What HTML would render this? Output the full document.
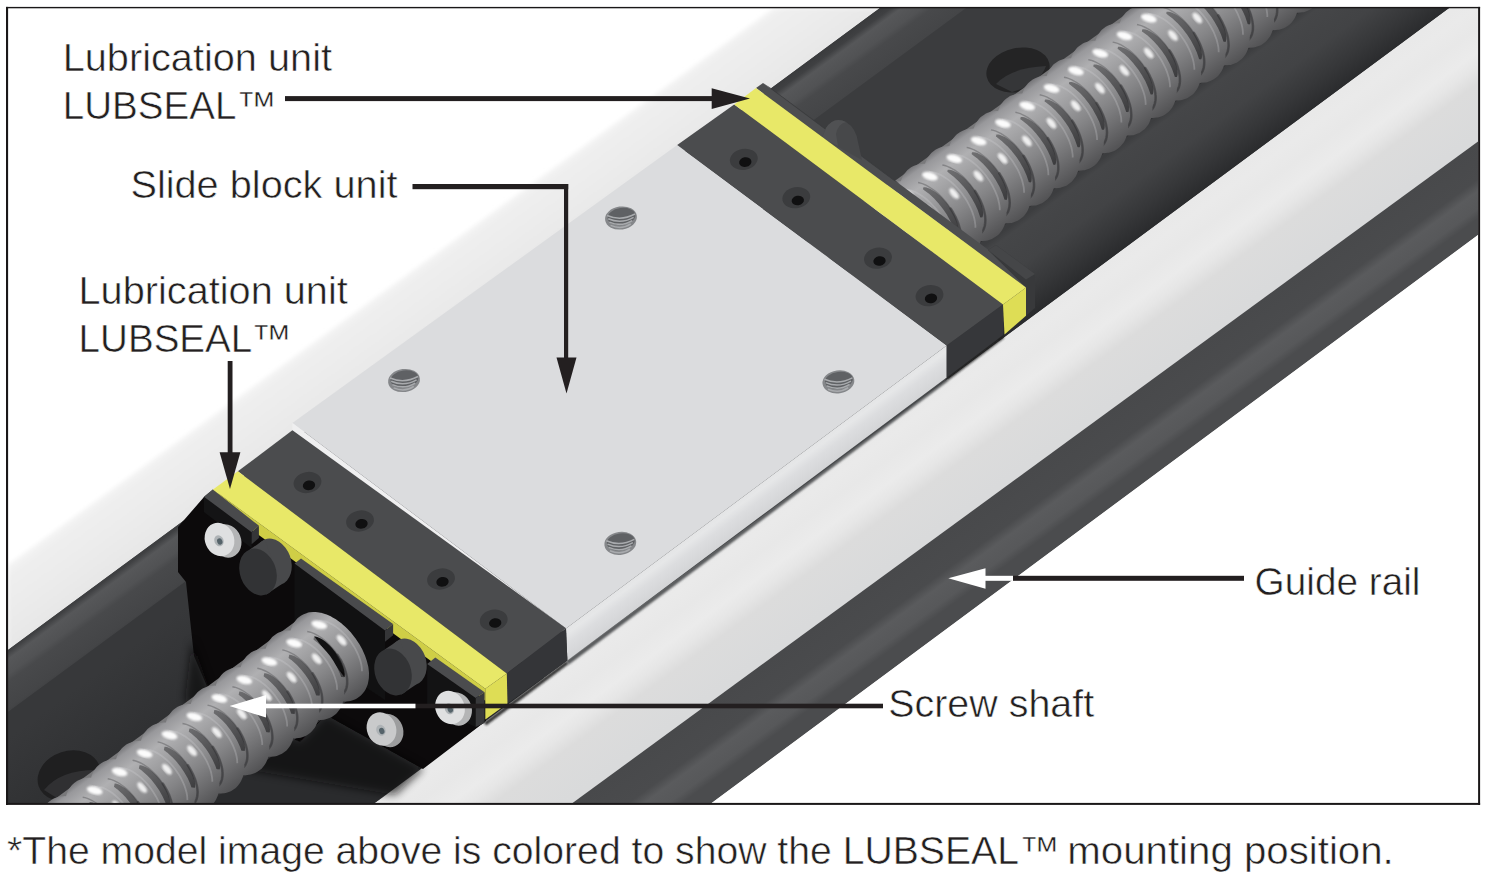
<!DOCTYPE html>
<html><head><meta charset="utf-8"><title>LUBSEAL mounting position</title>
<style>
html,body{margin:0;padding:0;background:#fff;}
body{width:1486px;height:874px;overflow:hidden;position:relative;font-family:"Liberation Sans",sans-serif;}
svg{position:absolute;left:0;top:0;display:block;}
text{font-family:"Liberation Sans",sans-serif;fill:#231f20;stroke:#fff;stroke-width:0.55px;}
</style></head><body>
<svg width="1486" height="874" viewBox="0 0 1486 874">
<defs>
<clipPath id="frame"><rect x="8" y="8" width="1470" height="795.5"/></clipPath>
<filter id="b2" x="-5%" y="-5%" width="110%" height="110%"><feGaussianBlur stdDeviation="2"/></filter>
<filter id="b1" x="-5%" y="-5%" width="110%" height="110%"><feGaussianBlur stdDeviation="1"/></filter>
<filter id="b4" x="-10%" y="-10%" width="120%" height="120%"><feGaussianBlur stdDeviation="4"/></filter>
</defs>
<g clip-path="url(#frame)">
<defs><linearGradient id="gLW" gradientUnits="userSpaceOnUse" x1="300.0" y1="352.0" x2="346.0" y2="415.0"><stop offset="0" stop-color="#f4f4f4"/><stop offset="0.15" stop-color="#eeeeee"/><stop offset="0.4" stop-color="#ececec"/><stop offset="0.7" stop-color="#e9e9e9"/><stop offset="1" stop-color="#e5e5e5"/></linearGradient></defs>
<polygon points="8.0,565.0 774.0,8.0 900.0,8.0 900.0,0.0 1478.0,0.0 1478.0,803.0 8.0,803.0" fill="url(#gLW)" filter="url(#b2)"/>
<polygon points="8.0,650.0 880.0,8.0 1449.4,8.0 375.0,803.0 8.0,803.0" fill="#3b3c3e" />
<defs><linearGradient id="gIW" gradientUnits="userSpaceOnUse" x1="500.0" y1="285.6" x2="536.0" y2="335.0"><stop offset="0" stop-color="#3a3b3d"/><stop offset="0.1" stop-color="#3f4042"/><stop offset="0.2" stop-color="#565759"/><stop offset="0.4" stop-color="#515254"/><stop offset="0.5" stop-color="#48494b"/><stop offset="0.85" stop-color="#444547"/><stop offset="1" stop-color="#3b3c3e"/></linearGradient></defs>
<polygon points="8.0,650.0 880.0,8.0 966.0,8.0 8.0,712.0" fill="url(#gIW)" />
<defs><linearGradient id="gFL" gradientUnits="userSpaceOnUse" x1="1100.0" y1="160.0" x2="1150.7" y2="229.0"><stop offset="0" stop-color="#3c3d3f"/><stop offset="0.08" stop-color="#454648"/><stop offset="0.45" stop-color="#424345"/><stop offset="0.75" stop-color="#363739"/><stop offset="1" stop-color="#2a2b2d"/></linearGradient></defs>
<polygon points="900.0,300.1 1300.0,-8.7 1449.4,8.0 1000.0,340.5" fill="url(#gFL)" />
<ellipse cx="1018.0" cy="70.0" rx="32.0" ry="22.0" fill="#242425" transform="rotate(-12.0 1018.0 70.0)" />
<path d="M996 84 Q1010 68 1046 66 Q1040 84 1012 92 Z" fill="#3a3b3d" opacity="0.8"/>
<defs><linearGradient id="gF2" gradientUnits="userSpaceOnUse" x1="60.0" y1="700.0" x2="160.0" y2="835.0"><stop offset="0" stop-color="#37383a"/><stop offset="0.5" stop-color="#2f3032"/><stop offset="1" stop-color="#2a2b2d"/></linearGradient></defs>
<polygon points="8.0,712.0 300.0,497.4 560.0,690.0 375.0,803.0 8.0,803.0" fill="url(#gF2)" />
<ellipse cx="69.0" cy="776.0" rx="32.0" ry="25.0" fill="#1f1f20" transform="rotate(-18.0 69.0 776.0)" />
<path d="M44 790 Q60 770 96 770 Q84 790 60 800 Z" fill="#343537" opacity="0.8"/>
<defs><linearGradient id="gRW" gradientUnits="userSpaceOnUse" x1="900.0" y1="414.6" x2="968.0" y2="507.6"><stop offset="0" stop-color="#e9e9e9"/><stop offset="0.1" stop-color="#eaeaea"/><stop offset="0.25" stop-color="#e8e8e8"/><stop offset="0.42" stop-color="#ebebeb"/><stop offset="0.52" stop-color="#e6e6e6"/><stop offset="0.64" stop-color="#dcdcdc"/><stop offset="1" stop-color="#d9dadb"/></linearGradient></defs>
<polygon points="375.0,803.0 1449.4,8.0 1478.0,8.0 1478.0,141.5 572.5,803.0" fill="url(#gRW)" />
<defs><linearGradient id="gOD" gradientUnits="userSpaceOnUse" x1="1000.0" y1="490.7" x2="1047.0" y2="554.7"><stop offset="0" stop-color="#48494b"/><stop offset="0.4" stop-color="#4a4b4d"/><stop offset="0.52" stop-color="#5a5b5d"/><stop offset="0.7" stop-color="#57585a"/><stop offset="0.8" stop-color="#4b4c4e"/><stop offset="1" stop-color="#4b4c4e"/></linearGradient></defs>
<polygon points="572.5,803.0 1478.0,141.5 1478.0,235.0 711.7,803.0" fill="url(#gOD)" />
<polygon points="711.7,803.0 1478.0,235.0 1478.0,803.0" fill="#ffffff" />
<g>
<defs><linearGradient id="sAg" gradientUnits="userSpaceOnUse" x1="819.0" y1="233.7" x2="881.0" y2="319.7"><stop offset="0" stop-color="#77777a"/><stop offset="0.06" stop-color="#98989b"/><stop offset="0.2" stop-color="#b0b0b2"/><stop offset="0.4" stop-color="#9b9b9d"/><stop offset="0.6" stop-color="#858587"/><stop offset="0.8" stop-color="#6c6c6e"/><stop offset="1" stop-color="#525254"/></linearGradient><linearGradient id="sAd" gradientUnits="userSpaceOnUse" x1="819.0" y1="233.7" x2="881.0" y2="319.7"><stop offset="0" stop-color="#7a7a7c"/><stop offset="0.2" stop-color="#727274"/><stop offset="0.45" stop-color="#5a5a5c"/><stop offset="0.75" stop-color="#3e3e40"/><stop offset="1" stop-color="#2e2e30"/></linearGradient></defs>
<polygon points="819.9,235.0 1299.9,-111.5 1358.5,-30.3 878.5,316.2" fill="url(#sAd)"/>
<path d="M1300.4 -92.6 L1301.2 -96.5 L1302.6 -99.7 L1304.6 -102.3 L1307.2 -104.2 L1310.2 -105.3 L1313.8 -105.6 L1317.7 -105.1 L1321.8 -103.8 L1326.2 -101.8 L1330.6 -99.0 L1335.0 -95.6 L1339.3 -91.6 L1343.4 -87.2 L1347.2 -82.3 L1350.7 -77.2 L1353.6 -71.9 L1356.0 -66.6 L1357.9 -61.3 L1359.1 -56.2 L1359.6 -51.5 L1359.5 -47.1 L1358.8 -43.2 L1357.4 -40.0 L1355.4 -37.4 L1352.8 -35.5 L1349.7 -34.4 L1346.2 -34.1 L1342.3 -34.6" fill="none" stroke="url(#sAg)" stroke-width="23.4" stroke-linejoin="round" stroke-linecap="round"/>
<path d="M1307.2 -98.4 L1309.7 -97.9 L1312.1 -97.0 L1314.7 -96.0 L1317.3 -94.6 L1319.9 -93.0 L1322.5 -91.2 L1325.2 -89.1 L1327.7 -86.9 L1330.2 -84.4 L1332.7 -81.8 L1335.0 -79.0 L1337.3 -76.1 L1339.4 -73.2 L1341.3 -70.1 L1343.1 -67.0 L1344.7 -63.8 L1346.2 -60.6 L1347.4 -57.5 L1348.4 -54.4 L1349.2 -51.4 L1349.7 -48.4 L1350.1 -45.6 L1350.2 -42.9 L1350.1 -40.4 L1349.7 -38.0 L1349.1 -35.9 L1348.3 -33.9 L1347.3 -32.2" fill="none" stroke="#3c3c3e" stroke-width="1.4" opacity="0.35"/>
<path d="M1339.8 -72.5 L1340.9 -70.8 L1342.0 -69.0 L1343.0 -67.2 L1343.9 -65.4 L1344.8 -63.6 L1345.7 -61.8 L1346.4 -60.0 L1347.1 -58.2 L1347.7 -56.4 L1348.3 -54.7 L1348.8 -52.9 L1349.2 -51.2 L1349.6 -49.5 L1349.8 -47.9 L1350.0 -46.3 L1350.2 -44.7 L1350.2 -43.2 L1350.2 -41.7 L1350.1 -40.3 L1349.9 -38.9 L1349.6 -37.6 L1349.3 -36.4 L1348.9 -35.2 L1348.4 -34.1 L1347.9 -33.1 L1347.2 -32.1 L1346.6 -31.3 L1345.8 -30.5" fill="none" stroke="#2c2c2e" stroke-width="2.6" opacity="0.45" stroke-linecap="round"/>
<path d="M1318.1 -109.2 L1320.1 -109.1 L1322.1 -108.8 L1324.2 -108.2 L1326.4 -107.5 L1328.7 -106.6 L1330.9 -105.4 L1333.2 -104.1 L1335.6 -102.6 L1337.9 -100.9 L1340.2 -99.0 L1342.4 -97.0 L1344.6 -94.9 L1346.8 -92.6 L1348.9 -90.2 L1350.9 -87.6 L1352.8 -85.1 L1354.6 -82.4 L1356.2 -79.7 L1357.8 -76.9 L1359.2 -74.1 L1360.4 -71.3 L1361.6 -68.6 L1362.5 -65.8 L1363.3 -63.1 L1363.9 -60.5 L1364.3 -58.0 L1364.5 -55.5 L1364.6 -53.1" fill="none" stroke="#d2d2d3" stroke-width="1.8" opacity="0.28"/>
<ellipse cx="1319.1" cy="-104.7" rx="8.0" ry="3.9" fill="#fff" opacity="0.97" transform="rotate(16.3 1319.1 -104.7)" filter="url(#b1)"/>
<ellipse cx="1343.2" cy="-87.4" rx="6.5" ry="3.2" fill="#fff" opacity="0.85" transform="rotate(49.8 1343.2 -87.4)" filter="url(#b1)"/>
<path d="M1276.1 -75.1 L1276.8 -78.9 L1278.2 -82.2 L1280.3 -84.8 L1282.8 -86.6 L1285.9 -87.7 L1289.5 -88.0 L1293.3 -87.5 L1297.5 -86.3 L1301.9 -84.2 L1306.3 -81.5 L1310.7 -78.1 L1315.0 -74.1 L1319.1 -69.6 L1322.9 -64.8 L1326.3 -59.6 L1329.3 -54.3 L1331.7 -49.0 L1333.5 -43.7 L1334.8 -38.7 L1335.3 -33.9 L1335.2 -29.5 L1334.5 -25.7 L1333.1 -22.4 L1331.0 -19.8 L1328.5 -18.0 L1325.4 -16.9 L1321.8 -16.6 L1318.0 -17.1" fill="none" stroke="url(#sAg)" stroke-width="23.4" stroke-linejoin="round" stroke-linecap="round"/>
<path d="M1282.9 -80.9 L1285.3 -80.3 L1287.8 -79.5 L1290.4 -78.4 L1293.0 -77.0 L1295.6 -75.4 L1298.2 -73.6 L1300.8 -71.5 L1303.4 -69.3 L1305.9 -66.8 L1308.4 -64.2 L1310.7 -61.5 L1312.9 -58.6 L1315.0 -55.6 L1317.0 -52.5 L1318.8 -49.4 L1320.4 -46.2 L1321.8 -43.1 L1323.1 -39.9 L1324.1 -36.8 L1324.9 -33.8 L1325.4 -30.9 L1325.8 -28.0 L1325.9 -25.4 L1325.7 -22.8 L1325.4 -20.5 L1324.8 -18.3 L1324.0 -16.4 L1323.0 -14.6" fill="none" stroke="#3c3c3e" stroke-width="1.4" opacity="0.35"/>
<path d="M1315.5 -55.0 L1316.6 -53.2 L1317.7 -51.4 L1318.7 -49.6 L1319.6 -47.9 L1320.5 -46.0 L1321.3 -44.2 L1322.1 -42.4 L1322.8 -40.7 L1323.4 -38.9 L1324.0 -37.1 L1324.5 -35.4 L1324.9 -33.6 L1325.2 -32.0 L1325.5 -30.3 L1325.7 -28.7 L1325.8 -27.1 L1325.9 -25.6 L1325.8 -24.1 L1325.7 -22.7 L1325.6 -21.3 L1325.3 -20.0 L1325.0 -18.8 L1324.6 -17.6 L1324.1 -16.5 L1323.5 -15.5 L1322.9 -14.6 L1322.2 -13.7 L1321.5 -12.9" fill="none" stroke="#2c2c2e" stroke-width="2.6" opacity="0.45" stroke-linecap="round"/>
<path d="M1293.8 -91.6 L1295.7 -91.5 L1297.8 -91.2 L1299.9 -90.7 L1302.1 -89.9 L1304.3 -89.0 L1306.6 -87.9 L1308.9 -86.5 L1311.2 -85.0 L1313.5 -83.3 L1315.8 -81.5 L1318.1 -79.5 L1320.3 -77.3 L1322.5 -75.0 L1324.5 -72.6 L1326.5 -70.1 L1328.4 -67.5 L1330.2 -64.8 L1331.9 -62.1 L1333.5 -59.3 L1334.9 -56.6 L1336.1 -53.8 L1337.2 -51.0 L1338.2 -48.3 L1338.9 -45.6 L1339.5 -42.9 L1340.0 -40.4 L1340.2 -37.9 L1340.3 -35.6" fill="none" stroke="#d2d2d3" stroke-width="1.8" opacity="0.28"/>
<ellipse cx="1294.8" cy="-87.2" rx="8.0" ry="3.9" fill="#fff" opacity="0.97" transform="rotate(16.3 1294.8 -87.2)" filter="url(#b1)"/>
<ellipse cx="1318.9" cy="-69.9" rx="6.5" ry="3.2" fill="#fff" opacity="0.85" transform="rotate(49.8 1318.9 -69.9)" filter="url(#b1)"/>
<path d="M1251.8 -57.5 L1252.5 -61.4 L1253.9 -64.6 L1255.9 -67.2 L1258.5 -69.1 L1261.6 -70.2 L1265.1 -70.5 L1269.0 -70.0 L1273.2 -68.7 L1277.5 -66.7 L1282.0 -63.9 L1286.4 -60.5 L1290.7 -56.5 L1294.8 -52.1 L1298.6 -47.2 L1302.0 -42.1 L1305.0 -36.8 L1307.4 -31.4 L1309.2 -26.2 L1310.4 -21.1 L1311.0 -16.3 L1310.9 -12.0 L1310.1 -8.1 L1308.7 -4.9 L1306.7 -2.3 L1304.1 -0.4 L1301.1 0.7 L1297.5 1.0 L1293.6 0.5" fill="none" stroke="url(#sAg)" stroke-width="23.4" stroke-linejoin="round" stroke-linecap="round"/>
<path d="M1258.6 -63.3 L1261.0 -62.8 L1263.5 -61.9 L1266.0 -60.8 L1268.6 -59.5 L1271.3 -57.9 L1273.9 -56.0 L1276.5 -54.0 L1279.1 -51.7 L1281.6 -49.3 L1284.0 -46.7 L1286.4 -43.9 L1288.6 -41.0 L1290.7 -38.0 L1292.7 -35.0 L1294.5 -31.8 L1296.1 -28.7 L1297.5 -25.5 L1298.7 -22.4 L1299.7 -19.3 L1300.5 -16.3 L1301.1 -13.3 L1301.4 -10.5 L1301.6 -7.8 L1301.4 -5.3 L1301.1 -2.9 L1300.5 -0.7 L1299.7 1.2 L1298.6 2.9" fill="none" stroke="#3c3c3e" stroke-width="1.4" opacity="0.35"/>
<path d="M1291.2 -37.4 L1292.3 -35.6 L1293.3 -33.9 L1294.3 -32.1 L1295.3 -30.3 L1296.2 -28.5 L1297.0 -26.7 L1297.8 -24.9 L1298.5 -23.1 L1299.1 -21.3 L1299.7 -19.5 L1300.2 -17.8 L1300.6 -16.1 L1300.9 -14.4 L1301.2 -12.7 L1301.4 -11.1 L1301.5 -9.6 L1301.6 -8.0 L1301.5 -6.6 L1301.4 -5.1 L1301.2 -3.8 L1301.0 -2.5 L1300.6 -1.2 L1300.2 -0.1 L1299.8 1.0 L1299.2 2.0 L1298.6 3.0 L1297.9 3.9 L1297.2 4.6" fill="none" stroke="#2c2c2e" stroke-width="2.6" opacity="0.45" stroke-linecap="round"/>
<path d="M1269.4 -74.0 L1271.4 -73.9 L1273.5 -73.6 L1275.6 -73.1 L1277.8 -72.4 L1280.0 -71.5 L1282.3 -70.3 L1284.6 -69.0 L1286.9 -67.5 L1289.2 -65.8 L1291.5 -63.9 L1293.8 -61.9 L1296.0 -59.7 L1298.1 -57.4 L1300.2 -55.0 L1302.2 -52.5 L1304.1 -49.9 L1305.9 -47.3 L1307.6 -44.5 L1309.1 -41.8 L1310.5 -39.0 L1311.8 -36.2 L1312.9 -33.5 L1313.8 -30.7 L1314.6 -28.0 L1315.2 -25.4 L1315.7 -22.8 L1315.9 -20.4 L1316.0 -18.0" fill="none" stroke="#d2d2d3" stroke-width="1.8" opacity="0.28"/>
<ellipse cx="1270.5" cy="-69.6" rx="8.0" ry="3.9" fill="#fff" opacity="0.97" transform="rotate(16.3 1270.5 -69.6)" filter="url(#b1)"/>
<ellipse cx="1294.6" cy="-52.3" rx="6.5" ry="3.2" fill="#fff" opacity="0.85" transform="rotate(49.8 1294.6 -52.3)" filter="url(#b1)"/>
<path d="M1227.4 -39.9 L1228.2 -43.8 L1229.6 -47.0 L1231.6 -49.6 L1234.2 -51.5 L1237.3 -52.6 L1240.8 -52.9 L1244.7 -52.4 L1248.9 -51.1 L1253.2 -49.1 L1257.7 -46.3 L1262.1 -42.9 L1266.4 -39.0 L1270.5 -34.5 L1274.3 -29.6 L1277.7 -24.5 L1280.6 -19.2 L1283.1 -13.9 L1284.9 -8.6 L1286.1 -3.5 L1286.7 1.2 L1286.6 5.6 L1285.8 9.4 L1284.4 12.7 L1282.4 15.3 L1279.8 17.1 L1276.7 18.2 L1273.2 18.5 L1269.3 18.1" fill="none" stroke="url(#sAg)" stroke-width="23.4" stroke-linejoin="round" stroke-linecap="round"/>
<path d="M1234.3 -45.7 L1236.7 -45.2 L1239.2 -44.4 L1241.7 -43.3 L1244.3 -41.9 L1246.9 -40.3 L1249.6 -38.5 L1252.2 -36.4 L1254.8 -34.2 L1257.3 -31.7 L1259.7 -29.1 L1262.1 -26.3 L1264.3 -23.5 L1266.4 -20.5 L1268.4 -17.4 L1270.1 -14.3 L1271.8 -11.1 L1273.2 -8.0 L1274.4 -4.8 L1275.4 -1.7 L1276.2 1.3 L1276.8 4.2 L1277.1 7.1 L1277.2 9.8 L1277.1 12.3 L1276.7 14.7 L1276.2 16.8 L1275.4 18.8 L1274.3 20.5" fill="none" stroke="#3c3c3e" stroke-width="1.4" opacity="0.35"/>
<path d="M1266.8 -19.8 L1267.9 -18.1 L1269.0 -16.3 L1270.0 -14.5 L1271.0 -12.7 L1271.9 -10.9 L1272.7 -9.1 L1273.4 -7.3 L1274.1 -5.5 L1274.8 -3.7 L1275.3 -2.0 L1275.8 -0.2 L1276.2 1.5 L1276.6 3.2 L1276.9 4.8 L1277.1 6.4 L1277.2 8.0 L1277.2 9.5 L1277.2 11.0 L1277.1 12.4 L1276.9 13.8 L1276.7 15.1 L1276.3 16.3 L1275.9 17.5 L1275.4 18.6 L1274.9 19.6 L1274.3 20.6 L1273.6 21.4 L1272.8 22.2" fill="none" stroke="#2c2c2e" stroke-width="2.6" opacity="0.45" stroke-linecap="round"/>
<path d="M1245.1 -56.5 L1247.1 -56.4 L1249.1 -56.1 L1251.3 -55.6 L1253.4 -54.8 L1255.7 -53.9 L1258.0 -52.8 L1260.3 -51.4 L1262.6 -49.9 L1264.9 -48.2 L1267.2 -46.3 L1269.4 -44.3 L1271.7 -42.2 L1273.8 -39.9 L1275.9 -37.5 L1277.9 -35.0 L1279.8 -32.4 L1281.6 -29.7 L1283.3 -27.0 L1284.8 -24.2 L1286.2 -21.4 L1287.5 -18.7 L1288.6 -15.9 L1289.5 -13.2 L1290.3 -10.5 L1290.9 -7.8 L1291.3 -5.3 L1291.6 -2.8 L1291.6 -0.5" fill="none" stroke="#d2d2d3" stroke-width="1.8" opacity="0.28"/>
<ellipse cx="1246.1" cy="-52.1" rx="8.0" ry="3.9" fill="#fff" opacity="0.97" transform="rotate(16.3 1246.1 -52.1)" filter="url(#b1)"/>
<ellipse cx="1270.3" cy="-34.7" rx="6.5" ry="3.2" fill="#fff" opacity="0.85" transform="rotate(49.8 1270.3 -34.7)" filter="url(#b1)"/>
<path d="M1203.1 -22.4 L1203.9 -26.2 L1205.3 -29.5 L1207.3 -32.1 L1209.9 -33.9 L1213.0 -35.0 L1216.5 -35.3 L1220.4 -34.8 L1224.5 -33.6 L1228.9 -31.5 L1233.3 -28.8 L1237.8 -25.4 L1242.1 -21.4 L1246.2 -16.9 L1250.0 -12.1 L1253.4 -7.0 L1256.3 -1.7 L1258.7 3.7 L1260.6 8.9 L1261.8 14.0 L1262.3 18.8 L1262.3 23.1 L1261.5 27.0 L1260.1 30.3 L1258.1 32.8 L1255.5 34.7 L1252.4 35.8 L1248.9 36.1 L1245.0 35.6" fill="none" stroke="url(#sAg)" stroke-width="23.4" stroke-linejoin="round" stroke-linecap="round"/>
<path d="M1210.0 -28.2 L1212.4 -27.6 L1214.8 -26.8 L1217.4 -25.7 L1220.0 -24.4 L1222.6 -22.8 L1225.3 -20.9 L1227.9 -18.9 L1230.4 -16.6 L1233.0 -14.2 L1235.4 -11.5 L1237.7 -8.8 L1240.0 -5.9 L1242.1 -2.9 L1244.0 0.2 L1245.8 3.3 L1247.4 6.4 L1248.9 9.6 L1250.1 12.7 L1251.1 15.8 L1251.9 18.9 L1252.5 21.8 L1252.8 24.6 L1252.9 27.3 L1252.8 29.9 L1252.4 32.2 L1251.8 34.4 L1251.0 36.3 L1250.0 38.0" fill="none" stroke="#3c3c3e" stroke-width="1.4" opacity="0.35"/>
<path d="M1242.5 -2.3 L1243.6 -0.5 L1244.7 1.3 L1245.7 3.0 L1246.6 4.8 L1247.5 6.6 L1248.4 8.4 L1249.1 10.2 L1249.8 12.0 L1250.5 13.8 L1251.0 15.6 L1251.5 17.3 L1251.9 19.0 L1252.3 20.7 L1252.5 22.4 L1252.7 24.0 L1252.9 25.6 L1252.9 27.1 L1252.9 28.6 L1252.8 30.0 L1252.6 31.3 L1252.3 32.6 L1252.0 33.9 L1251.6 35.0 L1251.1 36.1 L1250.6 37.2 L1250.0 38.1 L1249.3 39.0 L1248.5 39.8" fill="none" stroke="#2c2c2e" stroke-width="2.6" opacity="0.45" stroke-linecap="round"/>
<path d="M1220.8 -38.9 L1222.8 -38.8 L1224.8 -38.5 L1226.9 -38.0 L1229.1 -37.3 L1231.4 -36.3 L1233.6 -35.2 L1235.9 -33.9 L1238.3 -32.3 L1240.6 -30.6 L1242.9 -28.8 L1245.1 -26.8 L1247.3 -24.6 L1249.5 -22.3 L1251.6 -19.9 L1253.6 -17.4 L1255.5 -14.8 L1257.3 -12.1 L1258.9 -9.4 L1260.5 -6.7 L1261.9 -3.9 L1263.2 -1.1 L1264.3 1.7 L1265.2 4.4 L1266.0 7.1 L1266.6 9.7 L1267.0 12.3 L1267.3 14.7 L1267.3 17.1" fill="none" stroke="#d2d2d3" stroke-width="1.8" opacity="0.28"/>
<ellipse cx="1221.8" cy="-34.5" rx="8.0" ry="3.9" fill="#fff" opacity="0.97" transform="rotate(16.3 1221.8 -34.5)" filter="url(#b1)"/>
<ellipse cx="1246.0" cy="-17.2" rx="6.5" ry="3.2" fill="#fff" opacity="0.85" transform="rotate(49.8 1246.0 -17.2)" filter="url(#b1)"/>
<path d="M1178.8 -4.8 L1179.5 -8.7 L1180.9 -11.9 L1183.0 -14.5 L1185.5 -16.4 L1188.6 -17.5 L1192.2 -17.8 L1196.1 -17.3 L1200.2 -16.0 L1204.6 -14.0 L1209.0 -11.2 L1213.4 -7.8 L1217.7 -3.8 L1221.8 0.6 L1225.6 5.5 L1229.0 10.6 L1232.0 15.9 L1234.4 21.2 L1236.2 26.5 L1237.5 31.6 L1238.0 36.4 L1237.9 40.7 L1237.2 44.6 L1235.8 47.8 L1233.8 50.4 L1231.2 52.3 L1228.1 53.4 L1224.6 53.7 L1220.7 53.2" fill="none" stroke="url(#sAg)" stroke-width="23.4" stroke-linejoin="round" stroke-linecap="round"/>
<path d="M1185.6 -10.6 L1188.0 -10.1 L1190.5 -9.2 L1193.1 -8.1 L1195.7 -6.8 L1198.3 -5.2 L1200.9 -3.4 L1203.5 -1.3 L1206.1 1.0 L1208.6 3.4 L1211.1 6.0 L1213.4 8.8 L1215.7 11.7 L1217.8 14.6 L1219.7 17.7 L1221.5 20.8 L1223.1 24.0 L1224.5 27.2 L1225.8 30.3 L1226.8 33.4 L1227.6 36.4 L1228.1 39.4 L1228.5 42.2 L1228.6 44.9 L1228.5 47.4 L1228.1 49.8 L1227.5 51.9 L1226.7 53.9 L1225.7 55.6" fill="none" stroke="#3c3c3e" stroke-width="1.4" opacity="0.35"/>
<path d="M1218.2 15.3 L1219.3 17.0 L1220.4 18.8 L1221.4 20.6 L1222.3 22.4 L1223.2 24.2 L1224.0 26.0 L1224.8 27.8 L1225.5 29.6 L1226.1 31.4 L1226.7 33.1 L1227.2 34.9 L1227.6 36.6 L1227.9 38.3 L1228.2 39.9 L1228.4 41.6 L1228.5 43.1 L1228.6 44.6 L1228.6 46.1 L1228.4 47.5 L1228.3 48.9 L1228.0 50.2 L1227.7 51.4 L1227.3 52.6 L1226.8 53.7 L1226.2 54.7 L1225.6 55.7 L1224.9 56.5 L1224.2 57.3" fill="none" stroke="#2c2c2e" stroke-width="2.6" opacity="0.45" stroke-linecap="round"/>
<path d="M1196.5 -21.3 L1198.4 -21.3 L1200.5 -21.0 L1202.6 -20.4 L1204.8 -19.7 L1207.0 -18.8 L1209.3 -17.6 L1211.6 -16.3 L1213.9 -14.8 L1216.3 -13.1 L1218.5 -11.2 L1220.8 -9.2 L1223.0 -7.0 L1225.2 -4.8 L1227.3 -2.3 L1229.3 0.2 L1231.2 2.8 L1233.0 5.4 L1234.6 8.1 L1236.2 10.9 L1237.6 13.7 L1238.8 16.5 L1239.9 19.2 L1240.9 22.0 L1241.7 24.7 L1242.3 27.3 L1242.7 29.8 L1242.9 32.3 L1243.0 34.7" fill="none" stroke="#d2d2d3" stroke-width="1.8" opacity="0.28"/>
<ellipse cx="1197.5" cy="-16.9" rx="8.0" ry="3.9" fill="#fff" opacity="0.97" transform="rotate(16.3 1197.5 -16.9)" filter="url(#b1)"/>
<ellipse cx="1221.6" cy="0.4" rx="6.5" ry="3.2" fill="#fff" opacity="0.85" transform="rotate(49.8 1221.6 0.4)" filter="url(#b1)"/>
<path d="M1154.5 12.7 L1155.2 8.9 L1156.6 5.6 L1158.6 3.0 L1161.2 1.2 L1164.3 0.1 L1167.8 -0.2 L1171.7 0.3 L1175.9 1.6 L1180.3 3.6 L1184.7 6.3 L1189.1 9.7 L1193.4 13.7 L1197.5 18.2 L1201.3 23.0 L1204.7 28.2 L1207.7 33.5 L1210.1 38.8 L1211.9 44.1 L1213.1 49.1 L1213.7 53.9 L1213.6 58.3 L1212.8 62.1 L1211.4 65.4 L1209.4 68.0 L1206.9 69.8 L1203.8 70.9 L1200.2 71.2 L1196.3 70.7" fill="none" stroke="url(#sAg)" stroke-width="23.4" stroke-linejoin="round" stroke-linecap="round"/>
<path d="M1161.3 6.9 L1163.7 7.5 L1166.2 8.3 L1168.8 9.4 L1171.4 10.8 L1174.0 12.4 L1176.6 14.2 L1179.2 16.3 L1181.8 18.5 L1184.3 21.0 L1186.8 23.6 L1189.1 26.3 L1191.3 29.2 L1193.4 32.2 L1195.4 35.3 L1197.2 38.4 L1198.8 41.6 L1200.2 44.7 L1201.4 47.9 L1202.4 51.0 L1203.2 54.0 L1203.8 56.9 L1204.2 59.8 L1204.3 62.4 L1204.1 65.0 L1203.8 67.3 L1203.2 69.5 L1202.4 71.4 L1201.4 73.2" fill="none" stroke="#3c3c3e" stroke-width="1.4" opacity="0.35"/>
<path d="M1193.9 32.9 L1195.0 34.6 L1196.0 36.4 L1197.0 38.2 L1198.0 40.0 L1198.9 41.8 L1199.7 43.6 L1200.5 45.4 L1201.2 47.2 L1201.8 48.9 L1202.4 50.7 L1202.9 52.4 L1203.3 54.2 L1203.6 55.8 L1203.9 57.5 L1204.1 59.1 L1204.2 60.7 L1204.3 62.2 L1204.2 63.7 L1204.1 65.1 L1203.9 66.5 L1203.7 67.8 L1203.4 69.0 L1202.9 70.2 L1202.5 71.3 L1201.9 72.3 L1201.3 73.2 L1200.6 74.1 L1199.9 74.9" fill="none" stroke="#2c2c2e" stroke-width="2.6" opacity="0.45" stroke-linecap="round"/>
<path d="M1172.2 -3.8 L1174.1 -3.7 L1176.2 -3.4 L1178.3 -2.9 L1180.5 -2.1 L1182.7 -1.2 L1185.0 -0.1 L1187.3 1.3 L1189.6 2.8 L1191.9 4.5 L1194.2 6.3 L1196.5 8.4 L1198.7 10.5 L1200.9 12.8 L1202.9 15.2 L1204.9 17.7 L1206.8 20.3 L1208.6 23.0 L1210.3 25.7 L1211.8 28.5 L1213.3 31.2 L1214.5 34.0 L1215.6 36.8 L1216.6 39.5 L1217.3 42.2 L1217.9 44.9 L1218.4 47.4 L1218.6 49.9 L1218.7 52.2" fill="none" stroke="#d2d2d3" stroke-width="1.8" opacity="0.28"/>
<ellipse cx="1173.2" cy="0.6" rx="8.0" ry="3.9" fill="#fff" opacity="0.97" transform="rotate(16.3 1173.2 0.6)" filter="url(#b1)"/>
<ellipse cx="1197.3" cy="18.0" rx="6.5" ry="3.2" fill="#fff" opacity="0.85" transform="rotate(49.8 1197.3 18.0)" filter="url(#b1)"/>
<path d="M1130.1 30.3 L1130.9 26.5 L1132.3 23.2 L1134.3 20.6 L1136.9 18.7 L1140.0 17.6 L1143.5 17.3 L1147.4 17.8 L1151.6 19.1 L1155.9 21.2 L1160.4 23.9 L1164.8 27.3 L1169.1 31.3 L1173.2 35.7 L1177.0 40.6 L1180.4 45.7 L1183.3 51.0 L1185.8 56.4 L1187.6 61.6 L1188.8 66.7 L1189.4 71.5 L1189.3 75.8 L1188.5 79.7 L1187.1 82.9 L1185.1 85.5 L1182.5 87.4 L1179.4 88.5 L1175.9 88.8 L1172.0 88.3" fill="none" stroke="url(#sAg)" stroke-width="23.4" stroke-linejoin="round" stroke-linecap="round"/>
<path d="M1137.0 24.5 L1139.4 25.1 L1141.9 25.9 L1144.4 27.0 L1147.0 28.3 L1149.7 29.9 L1152.3 31.8 L1154.9 33.8 L1157.5 36.1 L1160.0 38.5 L1162.4 41.1 L1164.8 43.9 L1167.0 46.8 L1169.1 49.8 L1171.1 52.8 L1172.9 56.0 L1174.5 59.1 L1175.9 62.3 L1177.1 65.4 L1178.1 68.5 L1178.9 71.6 L1179.5 74.5 L1179.8 77.3 L1179.9 80.0 L1179.8 82.5 L1179.5 84.9 L1178.9 87.1 L1178.1 89.0 L1177.0 90.7" fill="none" stroke="#3c3c3e" stroke-width="1.4" opacity="0.35"/>
<path d="M1169.5 50.4 L1170.7 52.2 L1171.7 53.9 L1172.7 55.7 L1173.7 57.5 L1174.6 59.3 L1175.4 61.1 L1176.2 62.9 L1176.9 64.7 L1177.5 66.5 L1178.0 68.3 L1178.5 70.0 L1179.0 71.7 L1179.3 73.4 L1179.6 75.1 L1179.8 76.7 L1179.9 78.2 L1179.9 79.8 L1179.9 81.2 L1179.8 82.7 L1179.6 84.0 L1179.4 85.3 L1179.0 86.6 L1178.6 87.7 L1178.2 88.8 L1177.6 89.8 L1177.0 90.8 L1176.3 91.7 L1175.5 92.4" fill="none" stroke="#2c2c2e" stroke-width="2.6" opacity="0.45" stroke-linecap="round"/>
<path d="M1147.8 13.8 L1149.8 13.9 L1151.8 14.2 L1154.0 14.7 L1156.2 15.4 L1158.4 16.4 L1160.7 17.5 L1163.0 18.8 L1165.3 20.3 L1167.6 22.0 L1169.9 23.9 L1172.2 25.9 L1174.4 28.1 L1176.5 30.4 L1178.6 32.8 L1180.6 35.3 L1182.5 37.9 L1184.3 40.5 L1186.0 43.3 L1187.5 46.0 L1188.9 48.8 L1190.2 51.6 L1191.3 54.3 L1192.2 57.1 L1193.0 59.8 L1193.6 62.4 L1194.0 65.0 L1194.3 67.4 L1194.4 69.8" fill="none" stroke="#d2d2d3" stroke-width="1.8" opacity="0.28"/>
<ellipse cx="1148.8" cy="18.2" rx="8.0" ry="3.9" fill="#fff" opacity="0.97" transform="rotate(16.3 1148.8 18.2)" filter="url(#b1)"/>
<ellipse cx="1173.0" cy="35.5" rx="6.5" ry="3.2" fill="#fff" opacity="0.85" transform="rotate(49.8 1173.0 35.5)" filter="url(#b1)"/>
<path d="M1105.8 47.9 L1106.6 44.0 L1108.0 40.8 L1110.0 38.2 L1112.6 36.3 L1115.7 35.2 L1119.2 34.9 L1123.1 35.4 L1127.3 36.7 L1131.6 38.7 L1136.0 41.5 L1140.5 44.9 L1144.8 48.8 L1148.9 53.3 L1152.7 58.2 L1156.1 63.3 L1159.0 68.6 L1161.4 73.9 L1163.3 79.2 L1164.5 84.3 L1165.1 89.0 L1165.0 93.4 L1164.2 97.2 L1162.8 100.5 L1160.8 103.1 L1158.2 105.0 L1155.1 106.0 L1151.6 106.4 L1147.7 105.9" fill="none" stroke="url(#sAg)" stroke-width="23.4" stroke-linejoin="round" stroke-linecap="round"/>
<path d="M1112.7 42.1 L1115.1 42.6 L1117.6 43.4 L1120.1 44.5 L1122.7 45.9 L1125.3 47.5 L1128.0 49.3 L1130.6 51.4 L1133.1 53.6 L1135.7 56.1 L1138.1 58.7 L1140.5 61.5 L1142.7 64.3 L1144.8 67.3 L1146.7 70.4 L1148.5 73.5 L1150.1 76.7 L1151.6 79.8 L1152.8 83.0 L1153.8 86.1 L1154.6 89.1 L1155.2 92.1 L1155.5 94.9 L1155.6 97.6 L1155.5 100.1 L1155.1 102.5 L1154.5 104.6 L1153.7 106.6 L1152.7 108.3" fill="none" stroke="#3c3c3e" stroke-width="1.4" opacity="0.35"/>
<path d="M1145.2 68.0 L1146.3 69.7 L1147.4 71.5 L1148.4 73.3 L1149.4 75.1 L1150.2 76.9 L1151.1 78.7 L1151.8 80.5 L1152.5 82.3 L1153.2 84.1 L1153.7 85.8 L1154.2 87.6 L1154.6 89.3 L1155.0 91.0 L1155.3 92.6 L1155.4 94.2 L1155.6 95.8 L1155.6 97.3 L1155.6 98.8 L1155.5 100.2 L1155.3 101.6 L1155.0 102.9 L1154.7 104.1 L1154.3 105.3 L1153.8 106.4 L1153.3 107.4 L1152.7 108.4 L1152.0 109.2 L1151.2 110.0" fill="none" stroke="#2c2c2e" stroke-width="2.6" opacity="0.45" stroke-linecap="round"/>
<path d="M1123.5 31.3 L1125.5 31.4 L1127.5 31.7 L1129.6 32.2 L1131.8 33.0 L1134.1 33.9 L1136.4 35.1 L1138.7 36.4 L1141.0 37.9 L1143.3 39.6 L1145.6 41.5 L1147.8 43.5 L1150.0 45.6 L1152.2 47.9 L1154.3 50.3 L1156.3 52.8 L1158.2 55.4 L1160.0 58.1 L1161.7 60.8 L1163.2 63.6 L1164.6 66.4 L1165.9 69.1 L1167.0 71.9 L1167.9 74.7 L1168.7 77.3 L1169.3 80.0 L1169.7 82.5 L1170.0 85.0 L1170.0 87.3" fill="none" stroke="#d2d2d3" stroke-width="1.8" opacity="0.28"/>
<ellipse cx="1124.5" cy="35.8" rx="8.0" ry="3.9" fill="#fff" opacity="0.97" transform="rotate(16.3 1124.5 35.8)" filter="url(#b1)"/>
<ellipse cx="1148.7" cy="53.1" rx="6.5" ry="3.2" fill="#fff" opacity="0.85" transform="rotate(49.8 1148.7 53.1)" filter="url(#b1)"/>
<path d="M1081.5 65.4 L1082.3 61.6 L1083.7 58.3 L1085.7 55.7 L1088.2 53.9 L1091.3 52.8 L1094.9 52.5 L1098.8 53.0 L1102.9 54.2 L1107.3 56.3 L1111.7 59.0 L1116.1 62.4 L1120.4 66.4 L1124.5 70.9 L1128.3 75.7 L1131.7 80.9 L1134.7 86.1 L1137.1 91.5 L1139.0 96.8 L1140.2 101.8 L1140.7 106.6 L1140.6 111.0 L1139.9 114.8 L1138.5 118.1 L1136.5 120.6 L1133.9 122.5 L1130.8 123.6 L1127.3 123.9 L1123.4 123.4" fill="none" stroke="url(#sAg)" stroke-width="23.4" stroke-linejoin="round" stroke-linecap="round"/>
<path d="M1088.3 59.6 L1090.7 60.2 L1093.2 61.0 L1095.8 62.1 L1098.4 63.5 L1101.0 65.1 L1103.6 66.9 L1106.2 68.9 L1108.8 71.2 L1111.3 73.6 L1113.8 76.3 L1116.1 79.0 L1118.4 81.9 L1120.5 84.9 L1122.4 88.0 L1124.2 91.1 L1125.8 94.2 L1127.2 97.4 L1128.5 100.5 L1129.5 103.6 L1130.3 106.7 L1130.8 109.6 L1131.2 112.4 L1131.3 115.1 L1131.2 117.7 L1130.8 120.0 L1130.2 122.2 L1129.4 124.1 L1128.4 125.8" fill="none" stroke="#3c3c3e" stroke-width="1.4" opacity="0.35"/>
<path d="M1120.9 85.5 L1122.0 87.3 L1123.1 89.1 L1124.1 90.8 L1125.0 92.6 L1125.9 94.4 L1126.7 96.2 L1127.5 98.0 L1128.2 99.8 L1128.8 101.6 L1129.4 103.4 L1129.9 105.1 L1130.3 106.8 L1130.7 108.5 L1130.9 110.2 L1131.1 111.8 L1131.2 113.4 L1131.3 114.9 L1131.3 116.4 L1131.2 117.8 L1131.0 119.1 L1130.7 120.4 L1130.4 121.7 L1130.0 122.9 L1129.5 123.9 L1129.0 125.0 L1128.3 125.9 L1127.7 126.8 L1126.9 127.6" fill="none" stroke="#2c2c2e" stroke-width="2.6" opacity="0.45" stroke-linecap="round"/>
<path d="M1099.2 48.9 L1101.1 49.0 L1103.2 49.3 L1105.3 49.8 L1107.5 50.5 L1109.8 51.5 L1112.0 52.6 L1114.3 53.9 L1116.6 55.5 L1119.0 57.2 L1121.3 59.0 L1123.5 61.0 L1125.7 63.2 L1127.9 65.5 L1130.0 67.9 L1132.0 70.4 L1133.9 73.0 L1135.7 75.7 L1137.3 78.4 L1138.9 81.1 L1140.3 83.9 L1141.5 86.7 L1142.6 89.5 L1143.6 92.2 L1144.4 94.9 L1145.0 97.5 L1145.4 100.1 L1145.6 102.6 L1145.7 104.9" fill="none" stroke="#d2d2d3" stroke-width="1.8" opacity="0.28"/>
<ellipse cx="1100.2" cy="53.3" rx="8.0" ry="3.9" fill="#fff" opacity="0.97" transform="rotate(16.3 1100.2 53.3)" filter="url(#b1)"/>
<ellipse cx="1124.3" cy="70.6" rx="6.5" ry="3.2" fill="#fff" opacity="0.85" transform="rotate(49.8 1124.3 70.6)" filter="url(#b1)"/>
<path d="M1057.2 83.0 L1057.9 79.1 L1059.3 75.9 L1061.3 73.3 L1063.9 71.4 L1067.0 70.3 L1070.5 70.0 L1074.4 70.5 L1078.6 71.8 L1083.0 73.8 L1087.4 76.6 L1091.8 80.0 L1096.1 84.0 L1100.2 88.4 L1104.0 93.3 L1107.4 98.4 L1110.4 103.7 L1112.8 109.0 L1114.6 114.3 L1115.8 119.4 L1116.4 124.2 L1116.3 128.5 L1115.6 132.4 L1114.2 135.6 L1112.1 138.2 L1109.6 140.1 L1106.5 141.2 L1102.9 141.5 L1099.0 141.0" fill="none" stroke="url(#sAg)" stroke-width="23.4" stroke-linejoin="round" stroke-linecap="round"/>
<path d="M1064.0 77.2 L1066.4 77.7 L1068.9 78.6 L1071.5 79.7 L1074.1 81.0 L1076.7 82.6 L1079.3 84.4 L1081.9 86.5 L1084.5 88.8 L1087.0 91.2 L1089.5 93.8 L1091.8 96.6 L1094.0 99.5 L1096.1 102.5 L1098.1 105.5 L1099.9 108.6 L1101.5 111.8 L1102.9 115.0 L1104.1 118.1 L1105.2 121.2 L1106.0 124.2 L1106.5 127.2 L1106.9 130.0 L1107.0 132.7 L1106.8 135.2 L1106.5 137.6 L1105.9 139.7 L1105.1 141.7 L1104.1 143.4" fill="none" stroke="#3c3c3e" stroke-width="1.4" opacity="0.35"/>
<path d="M1096.6 103.1 L1097.7 104.8 L1098.7 106.6 L1099.8 108.4 L1100.7 110.2 L1101.6 112.0 L1102.4 113.8 L1103.2 115.6 L1103.9 117.4 L1104.5 119.2 L1105.1 120.9 L1105.6 122.7 L1106.0 124.4 L1106.3 126.1 L1106.6 127.7 L1106.8 129.4 L1106.9 130.9 L1107.0 132.5 L1106.9 133.9 L1106.8 135.3 L1106.6 136.7 L1106.4 138.0 L1106.1 139.2 L1105.7 140.4 L1105.2 141.5 L1104.6 142.5 L1104.0 143.5 L1103.3 144.3 L1102.6 145.1" fill="none" stroke="#2c2c2e" stroke-width="2.6" opacity="0.45" stroke-linecap="round"/>
<path d="M1074.9 66.5 L1076.8 66.5 L1078.9 66.9 L1081.0 67.4 L1083.2 68.1 L1085.4 69.0 L1087.7 70.2 L1090.0 71.5 L1092.3 73.0 L1094.6 74.7 L1096.9 76.6 L1099.2 78.6 L1101.4 80.8 L1103.6 83.1 L1105.6 85.5 L1107.6 88.0 L1109.5 90.6 L1111.3 93.2 L1113.0 95.9 L1114.6 98.7 L1116.0 101.5 L1117.2 104.3 L1118.3 107.0 L1119.3 109.8 L1120.0 112.5 L1120.6 115.1 L1121.1 117.7 L1121.3 120.1 L1121.4 122.5" fill="none" stroke="#d2d2d3" stroke-width="1.8" opacity="0.28"/>
<ellipse cx="1075.9" cy="70.9" rx="8.0" ry="3.9" fill="#fff" opacity="0.97" transform="rotate(16.3 1075.9 70.9)" filter="url(#b1)"/>
<ellipse cx="1100.0" cy="88.2" rx="6.5" ry="3.2" fill="#fff" opacity="0.85" transform="rotate(49.8 1100.0 88.2)" filter="url(#b1)"/>
<path d="M1032.8 100.5 L1033.6 96.7 L1035.0 93.4 L1037.0 90.9 L1039.6 89.0 L1042.7 87.9 L1046.2 87.6 L1050.1 88.1 L1054.3 89.4 L1058.6 91.4 L1063.1 94.1 L1067.5 97.6 L1071.8 101.5 L1075.9 106.0 L1079.7 110.8 L1083.1 116.0 L1086.0 121.3 L1088.5 126.6 L1090.3 131.9 L1091.5 136.9 L1092.1 141.7 L1092.0 146.1 L1091.2 149.9 L1089.8 153.2 L1087.8 155.8 L1085.2 157.6 L1082.1 158.7 L1078.6 159.0 L1074.7 158.5" fill="none" stroke="url(#sAg)" stroke-width="23.4" stroke-linejoin="round" stroke-linecap="round"/>
<path d="M1039.7 94.7 L1042.1 95.3 L1044.6 96.1 L1047.1 97.2 L1049.7 98.6 L1052.4 100.2 L1055.0 102.0 L1057.6 104.1 L1060.2 106.3 L1062.7 108.8 L1065.1 111.4 L1067.5 114.1 L1069.7 117.0 L1071.8 120.0 L1073.8 123.1 L1075.6 126.2 L1077.2 129.4 L1078.6 132.5 L1079.8 135.7 L1080.8 138.8 L1081.6 141.8 L1082.2 144.7 L1082.5 147.6 L1082.6 150.3 L1082.5 152.8 L1082.2 155.1 L1081.6 157.3 L1080.8 159.3 L1079.7 161.0" fill="none" stroke="#3c3c3e" stroke-width="1.4" opacity="0.35"/>
<path d="M1072.2 120.7 L1073.4 122.4 L1074.4 124.2 L1075.4 126.0 L1076.4 127.8 L1077.3 129.6 L1078.1 131.4 L1078.9 133.2 L1079.6 135.0 L1080.2 136.7 L1080.8 138.5 L1081.2 140.2 L1081.7 142.0 L1082.0 143.7 L1082.3 145.3 L1082.5 146.9 L1082.6 148.5 L1082.6 150.0 L1082.6 151.5 L1082.5 152.9 L1082.3 154.3 L1082.1 155.6 L1081.7 156.8 L1081.3 158.0 L1080.9 159.1 L1080.3 160.1 L1079.7 161.0 L1079.0 161.9 L1078.3 162.7" fill="none" stroke="#2c2c2e" stroke-width="2.6" opacity="0.45" stroke-linecap="round"/>
<path d="M1050.5 84.0 L1052.5 84.1 L1054.5 84.4 L1056.7 84.9 L1058.9 85.7 L1061.1 86.6 L1063.4 87.7 L1065.7 89.1 L1068.0 90.6 L1070.3 92.3 L1072.6 94.1 L1074.9 96.2 L1077.1 98.3 L1079.2 100.6 L1081.3 103.0 L1083.3 105.5 L1085.2 108.1 L1087.0 110.8 L1088.7 113.5 L1090.2 116.3 L1091.6 119.0 L1092.9 121.8 L1094.0 124.6 L1094.9 127.3 L1095.7 130.0 L1096.3 132.7 L1096.7 135.2 L1097.0 137.7 L1097.1 140.0" fill="none" stroke="#d2d2d3" stroke-width="1.8" opacity="0.28"/>
<ellipse cx="1051.6" cy="88.4" rx="8.0" ry="3.9" fill="#fff" opacity="0.97" transform="rotate(16.3 1051.6 88.4)" filter="url(#b1)"/>
<ellipse cx="1075.7" cy="105.8" rx="6.5" ry="3.2" fill="#fff" opacity="0.85" transform="rotate(49.8 1075.7 105.8)" filter="url(#b1)"/>
<path d="M1008.5 118.1 L1009.3 114.3 L1010.7 111.0 L1012.7 108.4 L1015.3 106.6 L1018.4 105.5 L1021.9 105.1 L1025.8 105.6 L1030.0 106.9 L1034.3 109.0 L1038.7 111.7 L1043.2 115.1 L1047.5 119.1 L1051.6 123.6 L1055.4 128.4 L1058.8 133.5 L1061.7 138.8 L1064.1 144.2 L1066.0 149.4 L1067.2 154.5 L1067.8 159.3 L1067.7 163.6 L1066.9 167.5 L1065.5 170.7 L1063.5 173.3 L1060.9 175.2 L1057.8 176.3 L1054.3 176.6 L1050.4 176.1" fill="none" stroke="url(#sAg)" stroke-width="23.4" stroke-linejoin="round" stroke-linecap="round"/>
<path d="M1015.4 112.3 L1017.8 112.9 L1020.3 113.7 L1022.8 114.8 L1025.4 116.1 L1028.0 117.7 L1030.7 119.6 L1033.3 121.6 L1035.9 123.9 L1038.4 126.3 L1040.8 128.9 L1043.2 131.7 L1045.4 134.6 L1047.5 137.6 L1049.5 140.6 L1051.2 143.8 L1052.9 146.9 L1054.3 150.1 L1055.5 153.2 L1056.5 156.3 L1057.3 159.4 L1057.9 162.3 L1058.2 165.1 L1058.3 167.8 L1058.2 170.3 L1057.8 172.7 L1057.3 174.9 L1056.4 176.8 L1055.4 178.5" fill="none" stroke="#3c3c3e" stroke-width="1.4" opacity="0.35"/>
<path d="M1047.9 138.2 L1049.0 140.0 L1050.1 141.7 L1051.1 143.5 L1052.1 145.3 L1052.9 147.1 L1053.8 148.9 L1054.5 150.7 L1055.2 152.5 L1055.9 154.3 L1056.4 156.1 L1056.9 157.8 L1057.3 159.5 L1057.7 161.2 L1058.0 162.9 L1058.2 164.5 L1058.3 166.1 L1058.3 167.6 L1058.3 169.1 L1058.2 170.5 L1058.0 171.8 L1057.7 173.1 L1057.4 174.4 L1057.0 175.5 L1056.5 176.6 L1056.0 177.7 L1055.4 178.6 L1054.7 179.5 L1053.9 180.3" fill="none" stroke="#2c2c2e" stroke-width="2.6" opacity="0.45" stroke-linecap="round"/>
<path d="M1026.2 101.6 L1028.2 101.7 L1030.2 102.0 L1032.3 102.5 L1034.5 103.2 L1036.8 104.2 L1039.1 105.3 L1041.4 106.6 L1043.7 108.1 L1046.0 109.8 L1048.3 111.7 L1050.5 113.7 L1052.8 115.9 L1054.9 118.2 L1057.0 120.6 L1059.0 123.1 L1060.9 125.7 L1062.7 128.3 L1064.4 131.1 L1065.9 133.8 L1067.3 136.6 L1068.6 139.4 L1069.7 142.2 L1070.6 144.9 L1071.4 147.6 L1072.0 150.2 L1072.4 152.8 L1072.7 155.2 L1072.7 157.6" fill="none" stroke="#d2d2d3" stroke-width="1.8" opacity="0.28"/>
<ellipse cx="1027.2" cy="106.0" rx="8.0" ry="3.9" fill="#fff" opacity="0.97" transform="rotate(16.3 1027.2 106.0)" filter="url(#b1)"/>
<ellipse cx="1051.4" cy="123.3" rx="6.5" ry="3.2" fill="#fff" opacity="0.85" transform="rotate(49.8 1051.4 123.3)" filter="url(#b1)"/>
<path d="M984.2 135.7 L985.0 131.8 L986.4 128.6 L988.4 126.0 L991.0 124.1 L994.0 123.0 L997.6 122.7 L1001.5 123.2 L1005.6 124.5 L1010.0 126.5 L1014.4 129.3 L1018.8 132.7 L1023.2 136.7 L1027.2 141.1 L1031.0 146.0 L1034.5 151.1 L1037.4 156.4 L1039.8 161.7 L1041.7 167.0 L1042.9 172.1 L1043.4 176.8 L1043.3 181.2 L1042.6 185.0 L1041.2 188.3 L1039.2 190.9 L1036.6 192.8 L1033.5 193.9 L1030.0 194.2 L1026.1 193.7" fill="none" stroke="url(#sAg)" stroke-width="23.4" stroke-linejoin="round" stroke-linecap="round"/>
<path d="M991.0 129.9 L993.5 130.4 L995.9 131.2 L998.5 132.3 L1001.1 133.7 L1003.7 135.3 L1006.3 137.1 L1009.0 139.2 L1011.5 141.4 L1014.1 143.9 L1016.5 146.5 L1018.8 149.3 L1021.1 152.1 L1023.2 155.1 L1025.1 158.2 L1026.9 161.3 L1028.5 164.5 L1030.0 167.6 L1031.2 170.8 L1032.2 173.9 L1033.0 176.9 L1033.6 179.9 L1033.9 182.7 L1034.0 185.4 L1033.9 187.9 L1033.5 190.3 L1032.9 192.4 L1032.1 194.4 L1031.1 196.1" fill="none" stroke="#3c3c3e" stroke-width="1.4" opacity="0.35"/>
<path d="M1023.6 155.8 L1024.7 157.5 L1025.8 159.3 L1026.8 161.1 L1027.7 162.9 L1028.6 164.7 L1029.5 166.5 L1030.2 168.3 L1030.9 170.1 L1031.6 171.9 L1032.1 173.6 L1032.6 175.4 L1033.0 177.1 L1033.4 178.8 L1033.6 180.4 L1033.8 182.0 L1034.0 183.6 L1034.0 185.1 L1034.0 186.6 L1033.9 188.0 L1033.7 189.4 L1033.4 190.7 L1033.1 191.9 L1032.7 193.1 L1032.2 194.2 L1031.7 195.2 L1031.0 196.2 L1030.4 197.0 L1029.6 197.8" fill="none" stroke="#2c2c2e" stroke-width="2.6" opacity="0.45" stroke-linecap="round"/>
<path d="M1001.9 119.1 L1003.9 119.2 L1005.9 119.5 L1008.0 120.1 L1010.2 120.8 L1012.5 121.7 L1014.7 122.9 L1017.0 124.2 L1019.4 125.7 L1021.7 127.4 L1024.0 129.3 L1026.2 131.3 L1028.4 133.4 L1030.6 135.7 L1032.7 138.1 L1034.7 140.6 L1036.6 143.2 L1038.4 145.9 L1040.0 148.6 L1041.6 151.4 L1043.0 154.2 L1044.3 156.9 L1045.4 159.7 L1046.3 162.5 L1047.1 165.2 L1047.7 167.8 L1048.1 170.3 L1048.3 172.8 L1048.4 175.2" fill="none" stroke="#d2d2d3" stroke-width="1.8" opacity="0.28"/>
<ellipse cx="1002.9" cy="123.6" rx="8.0" ry="3.9" fill="#fff" opacity="0.97" transform="rotate(16.3 1002.9 123.6)" filter="url(#b1)"/>
<ellipse cx="1027.0" cy="140.9" rx="6.5" ry="3.2" fill="#fff" opacity="0.85" transform="rotate(49.8 1027.0 140.9)" filter="url(#b1)"/>
<path d="M959.9 153.2 L960.6 149.4 L962.0 146.1 L964.1 143.5 L966.6 141.7 L969.7 140.6 L973.3 140.3 L977.1 140.8 L981.3 142.0 L985.7 144.1 L990.1 146.8 L994.5 150.2 L998.8 154.2 L1002.9 158.7 L1006.7 163.5 L1010.1 168.7 L1013.1 174.0 L1015.5 179.3 L1017.3 184.6 L1018.6 189.6 L1019.1 194.4 L1019.0 198.8 L1018.3 202.6 L1016.9 205.9 L1014.9 208.5 L1012.3 210.3 L1009.2 211.4 L1005.6 211.7 L1001.8 211.2" fill="none" stroke="url(#sAg)" stroke-width="23.4" stroke-linejoin="round" stroke-linecap="round"/>
<path d="M966.7 147.4 L969.1 148.0 L971.6 148.8 L974.2 149.9 L976.8 151.3 L979.4 152.9 L982.0 154.7 L984.6 156.7 L987.2 159.0 L989.7 161.5 L992.2 164.1 L994.5 166.8 L996.7 169.7 L998.9 172.7 L1000.8 175.8 L1002.6 178.9 L1004.2 182.0 L1005.6 185.2 L1006.9 188.3 L1007.9 191.4 L1008.7 194.5 L1009.2 197.4 L1009.6 200.2 L1009.7 202.9 L1009.6 205.5 L1009.2 207.8 L1008.6 210.0 L1007.8 211.9 L1006.8 213.7" fill="none" stroke="#3c3c3e" stroke-width="1.4" opacity="0.35"/>
<path d="M999.3 173.3 L1000.4 175.1 L1001.5 176.9 L1002.5 178.6 L1003.4 180.4 L1004.3 182.2 L1005.1 184.1 L1005.9 185.9 L1006.6 187.6 L1007.2 189.4 L1007.8 191.2 L1008.3 192.9 L1008.7 194.6 L1009.0 196.3 L1009.3 198.0 L1009.5 199.6 L1009.6 201.2 L1009.7 202.7 L1009.6 204.2 L1009.5 205.6 L1009.4 207.0 L1009.1 208.3 L1008.8 209.5 L1008.4 210.7 L1007.9 211.8 L1007.3 212.8 L1006.7 213.7 L1006.0 214.6 L1005.3 215.4" fill="none" stroke="#2c2c2e" stroke-width="2.6" opacity="0.45" stroke-linecap="round"/>
<path d="M977.6 136.7 L979.5 136.8 L981.6 137.1 L983.7 137.6 L985.9 138.3 L988.1 139.3 L990.4 140.4 L992.7 141.8 L995.0 143.3 L997.3 145.0 L999.6 146.8 L1001.9 148.8 L1004.1 151.0 L1006.3 153.3 L1008.4 155.7 L1010.3 158.2 L1012.3 160.8 L1014.0 163.5 L1015.7 166.2 L1017.3 168.9 L1018.7 171.7 L1019.9 174.5 L1021.0 177.3 L1022.0 180.0 L1022.7 182.7 L1023.3 185.3 L1023.8 187.9 L1024.0 190.4 L1024.1 192.7" fill="none" stroke="#d2d2d3" stroke-width="1.8" opacity="0.28"/>
<ellipse cx="978.6" cy="141.1" rx="8.0" ry="3.9" fill="#fff" opacity="0.97" transform="rotate(16.3 978.6 141.1)" filter="url(#b1)"/>
<ellipse cx="1002.7" cy="158.4" rx="6.5" ry="3.2" fill="#fff" opacity="0.85" transform="rotate(49.8 1002.7 158.4)" filter="url(#b1)"/>
<path d="M935.6 170.8 L936.3 166.9 L937.7 163.7 L939.7 161.1 L942.3 159.2 L945.4 158.1 L948.9 157.8 L952.8 158.3 L957.0 159.6 L961.3 161.6 L965.8 164.4 L970.2 167.8 L974.5 171.8 L978.6 176.2 L982.4 181.1 L985.8 186.2 L988.8 191.5 L991.2 196.9 L993.0 202.1 L994.2 207.2 L994.8 212.0 L994.7 216.3 L993.9 220.2 L992.5 223.4 L990.5 226.0 L987.9 227.9 L984.9 229.0 L981.3 229.3 L977.4 228.8" fill="none" stroke="url(#sAg)" stroke-width="23.4" stroke-linejoin="round" stroke-linecap="round"/>
<path d="M942.4 165.0 L944.8 165.5 L947.3 166.4 L949.8 167.5 L952.4 168.8 L955.1 170.4 L957.7 172.3 L960.3 174.3 L962.9 176.6 L965.4 179.0 L967.8 181.6 L970.2 184.4 L972.4 187.3 L974.5 190.3 L976.5 193.3 L978.3 196.5 L979.9 199.6 L981.3 202.8 L982.5 205.9 L983.5 209.0 L984.3 212.0 L984.9 215.0 L985.2 217.8 L985.4 220.5 L985.2 223.0 L984.9 225.4 L984.3 227.5 L983.5 229.5 L982.5 231.2" fill="none" stroke="#3c3c3e" stroke-width="1.4" opacity="0.35"/>
<path d="M975.0 190.9 L976.1 192.7 L977.1 194.4 L978.1 196.2 L979.1 198.0 L980.0 199.8 L980.8 201.6 L981.6 203.4 L982.3 205.2 L982.9 207.0 L983.5 208.8 L984.0 210.5 L984.4 212.2 L984.7 213.9 L985.0 215.5 L985.2 217.2 L985.3 218.7 L985.4 220.3 L985.3 221.7 L985.2 223.2 L985.0 224.5 L984.8 225.8 L984.4 227.1 L984.0 228.2 L983.6 229.3 L983.0 230.3 L982.4 231.3 L981.7 232.2 L981.0 232.9" fill="none" stroke="#2c2c2e" stroke-width="2.6" opacity="0.45" stroke-linecap="round"/>
<path d="M953.2 154.3 L955.2 154.4 L957.3 154.7 L959.4 155.2 L961.6 155.9 L963.8 156.8 L966.1 158.0 L968.4 159.3 L970.7 160.8 L973.0 162.5 L975.3 164.4 L977.6 166.4 L979.8 168.6 L981.9 170.9 L984.0 173.3 L986.0 175.8 L987.9 178.4 L989.7 181.0 L991.4 183.8 L992.9 186.5 L994.3 189.3 L995.6 192.1 L996.7 194.8 L997.7 197.6 L998.4 200.3 L999.0 202.9 L999.5 205.5 L999.7 207.9 L999.8 210.3" fill="none" stroke="#d2d2d3" stroke-width="1.8" opacity="0.28"/>
<ellipse cx="954.3" cy="158.7" rx="8.0" ry="3.9" fill="#fff" opacity="0.97" transform="rotate(16.3 954.3 158.7)" filter="url(#b1)"/>
<ellipse cx="978.4" cy="176.0" rx="6.5" ry="3.2" fill="#fff" opacity="0.85" transform="rotate(49.8 978.4 176.0)" filter="url(#b1)"/>
<path d="M911.2 188.4 L912.0 184.5 L913.4 181.2 L915.4 178.7 L918.0 176.8 L921.1 175.7 L924.6 175.4 L928.5 175.9 L932.7 177.2 L937.0 179.2 L941.5 182.0 L945.9 185.4 L950.2 189.3 L954.3 193.8 L958.1 198.6 L961.5 203.8 L964.4 209.1 L966.9 214.4 L968.7 219.7 L969.9 224.8 L970.5 229.5 L970.4 233.9 L969.6 237.7 L968.2 241.0 L966.2 243.6 L963.6 245.4 L960.5 246.5 L957.0 246.8 L953.1 246.4" fill="none" stroke="url(#sAg)" stroke-width="23.4" stroke-linejoin="round" stroke-linecap="round"/>
<path d="M918.1 182.5 L920.5 183.1 L923.0 183.9 L925.5 185.0 L928.1 186.4 L930.7 188.0 L933.4 189.8 L936.0 191.9 L938.6 194.1 L941.1 196.6 L943.5 199.2 L945.9 201.9 L948.1 204.8 L950.2 207.8 L952.2 210.9 L953.9 214.0 L955.6 217.2 L957.0 220.3 L958.2 223.5 L959.2 226.6 L960.0 229.6 L960.6 232.5 L960.9 235.4 L961.0 238.1 L960.9 240.6 L960.5 242.9 L960.0 245.1 L959.2 247.1 L958.1 248.8" fill="none" stroke="#3c3c3e" stroke-width="1.4" opacity="0.35"/>
<path d="M950.6 208.5 L951.7 210.2 L952.8 212.0 L953.8 213.8 L954.8 215.6 L955.7 217.4 L956.5 219.2 L957.3 221.0 L958.0 222.8 L958.6 224.5 L959.1 226.3 L959.6 228.1 L960.1 229.8 L960.4 231.5 L960.7 233.1 L960.9 234.7 L961.0 236.3 L961.0 237.8 L961.0 239.3 L960.9 240.7 L960.7 242.1 L960.5 243.4 L960.1 244.6 L959.7 245.8 L959.2 246.9 L958.7 247.9 L958.1 248.8 L957.4 249.7 L956.6 250.5" fill="none" stroke="#2c2c2e" stroke-width="2.6" opacity="0.45" stroke-linecap="round"/>
<path d="M928.9 171.8 L930.9 171.9 L932.9 172.2 L935.1 172.7 L937.2 173.5 L939.5 174.4 L941.8 175.5 L944.1 176.9 L946.4 178.4 L948.7 180.1 L951.0 181.9 L953.3 184.0 L955.5 186.1 L957.6 188.4 L959.7 190.8 L961.7 193.3 L963.6 195.9 L965.4 198.6 L967.1 201.3 L968.6 204.1 L970.0 206.8 L971.3 209.6 L972.4 212.4 L973.3 215.1 L974.1 217.8 L974.7 220.5 L975.1 223.0 L975.4 225.5 L975.4 227.8" fill="none" stroke="#d2d2d3" stroke-width="1.8" opacity="0.28"/>
<ellipse cx="929.9" cy="176.2" rx="8.0" ry="3.9" fill="#fff" opacity="0.97" transform="rotate(16.3 929.9 176.2)" filter="url(#b1)"/>
<ellipse cx="954.1" cy="193.6" rx="6.5" ry="3.2" fill="#fff" opacity="0.85" transform="rotate(49.8 954.1 193.6)" filter="url(#b1)"/>
<path d="M886.9 205.9 L887.7 202.1 L889.1 198.8 L891.1 196.2 L893.7 194.4 L896.8 193.3 L900.3 193.0 L904.2 193.4 L908.3 194.7 L912.7 196.8 L917.1 199.5 L921.6 202.9 L925.9 206.9 L930.0 211.4 L933.8 216.2 L937.2 221.3 L940.1 226.6 L942.5 232.0 L944.4 237.2 L945.6 242.3 L946.2 247.1 L946.1 251.4 L945.3 255.3 L943.9 258.6 L941.9 261.1 L939.3 263.0 L936.2 264.1 L932.7 264.4 L928.8 263.9" fill="none" stroke="url(#sAg)" stroke-width="23.4" stroke-linejoin="round" stroke-linecap="round"/>
<path d="M893.8 200.1 L896.2 200.7 L898.6 201.5 L901.2 202.6 L903.8 203.9 L906.4 205.5 L909.1 207.4 L911.7 209.4 L914.2 211.7 L916.8 214.1 L919.2 216.7 L921.5 219.5 L923.8 222.4 L925.9 225.4 L927.8 228.5 L929.6 231.6 L931.2 234.7 L932.7 237.9 L933.9 241.0 L934.9 244.1 L935.7 247.2 L936.3 250.1 L936.6 252.9 L936.7 255.6 L936.6 258.2 L936.2 260.5 L935.6 262.7 L934.8 264.6 L933.8 266.3" fill="none" stroke="#3c3c3e" stroke-width="1.4" opacity="0.35"/>
<path d="M926.3 226.0 L927.4 227.8 L928.5 229.5 L929.5 231.3 L930.4 233.1 L931.3 234.9 L932.2 236.7 L932.9 238.5 L933.6 240.3 L934.3 242.1 L934.8 243.9 L935.3 245.6 L935.7 247.3 L936.1 249.0 L936.3 250.7 L936.5 252.3 L936.7 253.9 L936.7 255.4 L936.7 256.9 L936.6 258.3 L936.4 259.6 L936.1 260.9 L935.8 262.2 L935.4 263.3 L934.9 264.4 L934.4 265.5 L933.8 266.4 L933.1 267.3 L932.3 268.1" fill="none" stroke="#2c2c2e" stroke-width="2.6" opacity="0.45" stroke-linecap="round"/>
<path d="M904.6 189.4 L906.6 189.5 L908.6 189.8 L910.7 190.3 L912.9 191.0 L915.2 192.0 L917.4 193.1 L919.8 194.4 L922.1 196.0 L924.4 197.6 L926.7 199.5 L928.9 201.5 L931.1 203.7 L933.3 206.0 L935.4 208.4 L937.4 210.9 L939.3 213.5 L941.1 216.2 L942.7 218.9 L944.3 221.6 L945.7 224.4 L947.0 227.2 L948.1 230.0 L949.0 232.7 L949.8 235.4 L950.4 238.0 L950.8 240.6 L951.1 243.0 L951.1 245.4" fill="none" stroke="#d2d2d3" stroke-width="1.8" opacity="0.28"/>
<ellipse cx="905.6" cy="193.8" rx="8.0" ry="3.9" fill="#fff" opacity="0.97" transform="rotate(16.3 905.6 193.8)" filter="url(#b1)"/>
<ellipse cx="929.8" cy="211.1" rx="6.5" ry="3.2" fill="#fff" opacity="0.85" transform="rotate(49.8 929.8 211.1)" filter="url(#b1)"/>
<path d="M862.6 223.5 L863.3 219.6 L864.7 216.4 L866.8 213.8 L869.3 211.9 L872.4 210.8 L876.0 210.5 L879.9 211.0 L884.0 212.3 L888.4 214.3 L892.8 217.1 L897.2 220.5 L901.5 224.5 L905.6 228.9 L909.4 233.8 L912.8 238.9 L915.8 244.2 L918.2 249.5 L920.0 254.8 L921.3 259.9 L921.8 264.6 L921.7 269.0 L921.0 272.9 L919.6 276.1 L917.6 278.7 L915.0 280.6 L911.9 281.7 L908.4 282.0 L904.5 281.5" fill="none" stroke="url(#sAg)" stroke-width="23.4" stroke-linejoin="round" stroke-linecap="round"/>
<path d="M869.4 217.7 L871.8 218.2 L874.3 219.1 L876.9 220.1 L879.5 221.5 L882.1 223.1 L884.7 224.9 L887.3 227.0 L889.9 229.2 L892.4 231.7 L894.9 234.3 L897.2 237.1 L899.5 240.0 L901.6 242.9 L903.5 246.0 L905.3 249.1 L906.9 252.3 L908.3 255.5 L909.6 258.6 L910.6 261.7 L911.4 264.7 L911.9 267.7 L912.3 270.5 L912.4 273.2 L912.3 275.7 L911.9 278.1 L911.3 280.2 L910.5 282.2 L909.5 283.9" fill="none" stroke="#3c3c3e" stroke-width="1.4" opacity="0.35"/>
<path d="M902.0 243.6 L903.1 245.3 L904.2 247.1 L905.2 248.9 L906.1 250.7 L907.0 252.5 L907.8 254.3 L908.6 256.1 L909.3 257.9 L909.9 259.7 L910.5 261.4 L911.0 263.2 L911.4 264.9 L911.8 266.6 L912.0 268.2 L912.2 269.8 L912.3 271.4 L912.4 272.9 L912.4 274.4 L912.2 275.8 L912.1 277.2 L911.8 278.5 L911.5 279.7 L911.1 280.9 L910.6 282.0 L910.1 283.0 L909.4 284.0 L908.7 284.8 L908.0 285.6" fill="none" stroke="#2c2c2e" stroke-width="2.6" opacity="0.45" stroke-linecap="round"/>
<path d="M880.3 206.9 L882.2 207.0 L884.3 207.3 L886.4 207.9 L888.6 208.6 L890.8 209.5 L893.1 210.7 L895.4 212.0 L897.7 213.5 L900.1 215.2 L902.3 217.1 L904.6 219.1 L906.8 221.2 L909.0 223.5 L911.1 225.9 L913.1 228.5 L915.0 231.0 L916.8 233.7 L918.4 236.4 L920.0 239.2 L921.4 242.0 L922.6 244.8 L923.7 247.5 L924.7 250.3 L925.5 253.0 L926.1 255.6 L926.5 258.1 L926.7 260.6 L926.8 263.0" fill="none" stroke="#d2d2d3" stroke-width="1.8" opacity="0.28"/>
<ellipse cx="881.3" cy="211.4" rx="8.0" ry="3.9" fill="#fff" opacity="0.97" transform="rotate(16.3 881.3 211.4)" filter="url(#b1)"/>
<ellipse cx="905.4" cy="228.7" rx="6.5" ry="3.2" fill="#fff" opacity="0.85" transform="rotate(49.8 905.4 228.7)" filter="url(#b1)"/>
<path d="M838.3 241.0 L839.0 237.2 L840.4 233.9 L842.4 231.3 L845.0 229.5 L848.1 228.4 L851.6 228.1 L855.5 228.6 L859.7 229.8 L864.1 231.9 L868.5 234.6 L872.9 238.0 L877.2 242.0 L881.3 246.5 L885.1 251.3 L888.5 256.5 L891.5 261.8 L893.9 267.1 L895.7 272.4 L896.9 277.4 L897.5 282.2 L897.4 286.6 L896.7 290.4 L895.2 293.7 L893.2 296.3 L890.7 298.1 L887.6 299.2 L884.0 299.5 L880.1 299.0" fill="none" stroke="url(#sAg)" stroke-width="23.4" stroke-linejoin="round" stroke-linecap="round"/>
<path d="M845.1 235.2 L847.5 235.8 L850.0 236.6 L852.6 237.7 L855.2 239.1 L857.8 240.7 L860.4 242.5 L863.0 244.6 L865.6 246.8 L868.1 249.3 L870.6 251.9 L872.9 254.6 L875.1 257.5 L877.2 260.5 L879.2 263.6 L881.0 266.7 L882.6 269.9 L884.0 273.0 L885.2 276.2 L886.3 279.3 L887.0 282.3 L887.6 285.2 L888.0 288.1 L888.1 290.7 L887.9 293.3 L887.6 295.6 L887.0 297.8 L886.2 299.7 L885.2 301.5" fill="none" stroke="#3c3c3e" stroke-width="1.4" opacity="0.35"/>
<path d="M877.7 261.1 L878.8 262.9 L879.8 264.7 L880.8 266.5 L881.8 268.3 L882.7 270.1 L883.5 271.9 L884.3 273.7 L885.0 275.5 L885.6 277.2 L886.2 279.0 L886.7 280.7 L887.1 282.5 L887.4 284.1 L887.7 285.8 L887.9 287.4 L888.0 289.0 L888.1 290.5 L888.0 292.0 L887.9 293.4 L887.7 294.8 L887.5 296.1 L887.2 297.3 L886.8 298.5 L886.3 299.6 L885.7 300.6 L885.1 301.5 L884.4 302.4 L883.7 303.2" fill="none" stroke="#2c2c2e" stroke-width="2.6" opacity="0.45" stroke-linecap="round"/>
<path d="M856.0 224.5 L857.9 224.6 L860.0 224.9 L862.1 225.4 L864.3 226.2 L866.5 227.1 L868.8 228.2 L871.1 229.6 L873.4 231.1 L875.7 232.8 L878.0 234.6 L880.3 236.7 L882.5 238.8 L884.7 241.1 L886.7 243.5 L888.7 246.0 L890.6 248.6 L892.4 251.3 L894.1 254.0 L895.6 256.8 L897.1 259.5 L898.3 262.3 L899.4 265.1 L900.4 267.8 L901.1 270.5 L901.7 273.2 L902.2 275.7 L902.4 278.2 L902.5 280.5" fill="none" stroke="#d2d2d3" stroke-width="1.8" opacity="0.28"/>
<ellipse cx="857.0" cy="228.9" rx="8.0" ry="3.9" fill="#fff" opacity="0.97" transform="rotate(16.3 857.0 228.9)" filter="url(#b1)"/>
<ellipse cx="881.1" cy="246.2" rx="6.5" ry="3.2" fill="#fff" opacity="0.85" transform="rotate(49.8 881.1 246.2)" filter="url(#b1)"/>
<path d="M813.9 258.6 L814.7 254.7 L816.1 251.5 L818.1 248.9 L820.7 247.0 L823.8 245.9 L827.3 245.6 L831.2 246.1 L835.4 247.4 L839.7 249.4 L844.2 252.2 L848.6 255.6 L852.9 259.6 L857.0 264.0 L860.8 268.9 L864.2 274.0 L867.1 279.3 L869.6 284.7 L871.4 289.9 L872.6 295.0 L873.2 299.8 L873.1 304.1 L872.3 308.0 L870.9 311.2 L868.9 313.8 L866.3 315.7 L863.2 316.8 L859.7 317.1 L855.8 316.6" fill="none" stroke="url(#sAg)" stroke-width="23.4" stroke-linejoin="round" stroke-linecap="round"/>
<path d="M820.8 252.8 L823.2 253.3 L825.7 254.2 L828.2 255.3 L830.8 256.6 L833.5 258.2 L836.1 260.1 L838.7 262.1 L841.3 264.4 L843.8 266.8 L846.2 269.4 L848.6 272.2 L850.8 275.1 L852.9 278.1 L854.9 281.1 L856.7 284.3 L858.3 287.4 L859.7 290.6 L860.9 293.7 L861.9 296.8 L862.7 299.8 L863.3 302.8 L863.6 305.6 L863.7 308.3 L863.6 310.8 L863.3 313.2 L862.7 315.4 L861.9 317.3 L860.8 319.0" fill="none" stroke="#3c3c3e" stroke-width="1.4" opacity="0.35"/>
<path d="M853.3 278.7 L854.5 280.5 L855.5 282.2 L856.5 284.0 L857.5 285.8 L858.4 287.6 L859.2 289.4 L860.0 291.2 L860.7 293.0 L861.3 294.8 L861.9 296.6 L862.3 298.3 L862.8 300.0 L863.1 301.7 L863.4 303.4 L863.6 305.0 L863.7 306.5 L863.7 308.1 L863.7 309.5 L863.6 311.0 L863.4 312.3 L863.2 313.6 L862.8 314.9 L862.4 316.0 L862.0 317.1 L861.4 318.1 L860.8 319.1 L860.1 320.0 L859.3 320.7" fill="none" stroke="#2c2c2e" stroke-width="2.6" opacity="0.45" stroke-linecap="round"/>
<path d="M831.6 242.1 L833.6 242.2 L835.6 242.5 L837.8 243.0 L840.0 243.7 L842.2 244.6 L844.5 245.8 L846.8 247.1 L849.1 248.6 L851.4 250.3 L853.7 252.2 L856.0 254.2 L858.2 256.4 L860.3 258.7 L862.4 261.1 L864.4 263.6 L866.3 266.2 L868.1 268.8 L869.8 271.6 L871.3 274.3 L872.7 277.1 L874.0 279.9 L875.1 282.6 L876.0 285.4 L876.8 288.1 L877.4 290.7 L877.8 293.3 L878.1 295.7 L878.2 298.1" fill="none" stroke="#d2d2d3" stroke-width="1.8" opacity="0.28"/>
<ellipse cx="832.6" cy="246.5" rx="8.0" ry="3.9" fill="#fff" opacity="0.97" transform="rotate(16.3 832.6 246.5)" filter="url(#b1)"/>
<ellipse cx="856.8" cy="263.8" rx="6.5" ry="3.2" fill="#fff" opacity="0.85" transform="rotate(49.8 856.8 263.8)" filter="url(#b1)"/>
<path d="M789.6 276.2 L790.4 272.3 L791.8 269.1 L793.8 266.5 L796.4 264.6 L799.5 263.5 L803.0 263.2 L806.9 263.7 L811.1 265.0 L815.4 267.0 L819.8 269.8 L824.3 273.2 L828.6 277.1 L832.7 281.6 L836.5 286.5 L839.9 291.6 L842.8 296.9 L845.2 302.2 L847.1 307.5 L848.3 312.6 L848.9 317.3 L848.8 321.7 L848.0 325.5 L846.6 328.8 L844.6 331.4 L842.0 333.2 L838.9 334.3 L835.4 334.6 L831.5 334.2" fill="none" stroke="url(#sAg)" stroke-width="23.4" stroke-linejoin="round" stroke-linecap="round"/>
<path d="M796.5 270.4 L798.9 270.9 L801.4 271.7 L803.9 272.8 L806.5 274.2 L809.1 275.8 L811.8 277.6 L814.4 279.7 L816.9 281.9 L819.5 284.4 L821.9 287.0 L824.3 289.8 L826.5 292.6 L828.6 295.6 L830.5 298.7 L832.3 301.8 L833.9 305.0 L835.4 308.1 L836.6 311.3 L837.6 314.4 L838.4 317.4 L839.0 320.3 L839.3 323.2 L839.4 325.9 L839.3 328.4 L838.9 330.8 L838.3 332.9 L837.5 334.9 L836.5 336.6" fill="none" stroke="#3c3c3e" stroke-width="1.4" opacity="0.35"/>
<path d="M829.0 296.3 L830.1 298.0 L831.2 299.8 L832.2 301.6 L833.2 303.4 L834.0 305.2 L834.9 307.0 L835.6 308.8 L836.3 310.6 L837.0 312.4 L837.5 314.1 L838.0 315.9 L838.4 317.6 L838.8 319.3 L839.1 320.9 L839.2 322.5 L839.4 324.1 L839.4 325.6 L839.4 327.1 L839.3 328.5 L839.1 329.9 L838.8 331.2 L838.5 332.4 L838.1 333.6 L837.6 334.7 L837.1 335.7 L836.5 336.7 L835.8 337.5 L835.0 338.3" fill="none" stroke="#2c2c2e" stroke-width="2.6" opacity="0.45" stroke-linecap="round"/>
<path d="M807.3 259.6 L809.3 259.7 L811.3 260.0 L813.4 260.5 L815.6 261.3 L817.9 262.2 L820.2 263.3 L822.5 264.7 L824.8 266.2 L827.1 267.9 L829.4 269.8 L831.6 271.8 L833.9 273.9 L836.0 276.2 L838.1 278.6 L840.1 281.1 L842.0 283.7 L843.8 286.4 L845.5 289.1 L847.0 291.9 L848.4 294.7 L849.7 297.4 L850.8 300.2 L851.7 302.9 L852.5 305.6 L853.1 308.3 L853.5 310.8 L853.8 313.3 L853.8 315.6" fill="none" stroke="#d2d2d3" stroke-width="1.8" opacity="0.28"/>
<ellipse cx="808.3" cy="264.1" rx="8.0" ry="3.9" fill="#fff" opacity="0.97" transform="rotate(16.3 808.3 264.1)" filter="url(#b1)"/>
<ellipse cx="832.5" cy="281.4" rx="6.5" ry="3.2" fill="#fff" opacity="0.85" transform="rotate(49.8 832.5 281.4)" filter="url(#b1)"/>
<path d="M765.3 293.7 L766.1 289.9 L767.5 286.6 L769.5 284.0 L772.1 282.2 L775.1 281.1 L778.7 280.8 L782.6 281.3 L786.7 282.5 L791.1 284.6 L795.5 287.3 L799.9 290.7 L804.2 294.7 L808.3 299.2 L812.1 304.0 L815.5 309.1 L818.5 314.4 L820.9 319.8 L822.8 325.0 L824.0 330.1 L824.5 334.9 L824.4 339.2 L823.7 343.1 L822.3 346.4 L820.3 348.9 L817.7 350.8 L814.6 351.9 L811.1 352.2 L807.2 351.7" fill="none" stroke="url(#sAg)" stroke-width="23.4" stroke-linejoin="round" stroke-linecap="round"/>
<path d="M772.1 287.9 L774.5 288.5 L777.0 289.3 L779.6 290.4 L782.2 291.7 L784.8 293.3 L787.4 295.2 L790.0 297.2 L792.6 299.5 L795.1 301.9 L797.6 304.6 L799.9 307.3 L802.2 310.2 L804.3 313.2 L806.2 316.3 L808.0 319.4 L809.6 322.5 L811.0 325.7 L812.3 328.8 L813.3 331.9 L814.1 335.0 L814.6 337.9 L815.0 340.7 L815.1 343.4 L815.0 346.0 L814.6 348.3 L814.0 350.5 L813.2 352.4 L812.2 354.1" fill="none" stroke="#3c3c3e" stroke-width="1.4" opacity="0.35"/>
<path d="M804.7 313.8 L805.8 315.6 L806.9 317.4 L807.9 319.1 L808.8 320.9 L809.7 322.7 L810.5 324.5 L811.3 326.3 L812.0 328.1 L812.6 329.9 L813.2 331.7 L813.7 333.4 L814.1 335.1 L814.5 336.8 L814.7 338.5 L814.9 340.1 L815.0 341.7 L815.1 343.2 L815.1 344.7 L815.0 346.1 L814.8 347.4 L814.5 348.7 L814.2 350.0 L813.8 351.1 L813.3 352.2 L812.8 353.3 L812.1 354.2 L811.5 355.1 L810.7 355.9" fill="none" stroke="#2c2c2e" stroke-width="2.6" opacity="0.45" stroke-linecap="round"/>
<path d="M783.0 277.2 L784.9 277.3 L787.0 277.6 L789.1 278.1 L791.3 278.8 L793.6 279.8 L795.8 280.9 L798.1 282.2 L800.5 283.8 L802.8 285.5 L805.1 287.3 L807.3 289.3 L809.5 291.5 L811.7 293.8 L813.8 296.2 L815.8 298.7 L817.7 301.3 L819.5 304.0 L821.1 306.7 L822.7 309.4 L824.1 312.2 L825.3 315.0 L826.4 317.8 L827.4 320.5 L828.2 323.2 L828.8 325.8 L829.2 328.4 L829.4 330.8 L829.5 333.2" fill="none" stroke="#d2d2d3" stroke-width="1.8" opacity="0.28"/>
<ellipse cx="784.0" cy="281.6" rx="8.0" ry="3.9" fill="#fff" opacity="0.97" transform="rotate(16.3 784.0 281.6)" filter="url(#b1)"/>
<ellipse cx="808.1" cy="298.9" rx="6.5" ry="3.2" fill="#fff" opacity="0.85" transform="rotate(49.8 808.1 298.9)" filter="url(#b1)"/>
<path d="M741.0 311.3 L741.7 307.4 L743.1 304.2 L745.1 301.6 L747.7 299.7 L750.8 298.6 L754.3 298.3 L758.2 298.8 L762.4 300.1 L766.8 302.1 L771.2 304.9 L775.6 308.3 L779.9 312.3 L784.0 316.7 L787.8 321.6 L791.2 326.7 L794.2 332.0 L796.6 337.3 L798.4 342.6 L799.6 347.7 L800.2 352.5 L800.1 356.8 L799.4 360.7 L798.0 363.9 L795.9 366.5 L793.4 368.4 L790.3 369.5 L786.7 369.8 L782.8 369.3" fill="none" stroke="url(#sAg)" stroke-width="23.4" stroke-linejoin="round" stroke-linecap="round"/>
<path d="M747.8 305.5 L750.2 306.0 L752.7 306.9 L755.3 308.0 L757.9 309.3 L760.5 310.9 L763.1 312.7 L765.7 314.8 L768.3 317.1 L770.8 319.5 L773.3 322.1 L775.6 324.9 L777.8 327.8 L779.9 330.8 L781.9 333.8 L783.7 336.9 L785.3 340.1 L786.7 343.3 L787.9 346.4 L789.0 349.5 L789.8 352.5 L790.3 355.5 L790.7 358.3 L790.8 361.0 L790.6 363.5 L790.3 365.9 L789.7 368.0 L788.9 370.0 L787.9 371.7" fill="none" stroke="#3c3c3e" stroke-width="1.4" opacity="0.35"/>
<path d="M780.4 331.4 L781.5 333.1 L782.5 334.9 L783.6 336.7 L784.5 338.5 L785.4 340.3 L786.2 342.1 L787.0 343.9 L787.7 345.7 L788.3 347.5 L788.9 349.2 L789.4 351.0 L789.8 352.7 L790.1 354.4 L790.4 356.0 L790.6 357.7 L790.7 359.2 L790.8 360.7 L790.7 362.2 L790.6 363.6 L790.5 365.0 L790.2 366.3 L789.9 367.5 L789.5 368.7 L789.0 369.8 L788.4 370.8 L787.8 371.8 L787.1 372.6 L786.4 373.4" fill="none" stroke="#2c2c2e" stroke-width="2.6" opacity="0.45" stroke-linecap="round"/>
<path d="M758.7 294.8 L760.6 294.8 L762.7 295.1 L764.8 295.7 L767.0 296.4 L769.2 297.3 L771.5 298.5 L773.8 299.8 L776.1 301.3 L778.4 303.0 L780.7 304.9 L783.0 306.9 L785.2 309.1 L787.4 311.3 L789.4 313.8 L791.4 316.3 L793.3 318.9 L795.1 321.5 L796.8 324.2 L798.4 327.0 L799.8 329.8 L801.0 332.6 L802.1 335.3 L803.1 338.1 L803.8 340.8 L804.4 343.4 L804.9 346.0 L805.1 348.4 L805.2 350.8" fill="none" stroke="#d2d2d3" stroke-width="1.8" opacity="0.28"/>
<ellipse cx="759.7" cy="299.2" rx="8.0" ry="3.9" fill="#fff" opacity="0.97" transform="rotate(16.3 759.7 299.2)" filter="url(#b1)"/>
<ellipse cx="783.8" cy="316.5" rx="6.5" ry="3.2" fill="#fff" opacity="0.85" transform="rotate(49.8 783.8 316.5)" filter="url(#b1)"/>
</g>
<polygon points="756.0,88.0 763.0,83.0 1034.0,283.5 1026.0,287.5" fill="#4d4e50" />
<polygon points="763.0,83.0 771.2,88.3 900.0,184.0 893.0,180.0" fill="#3a3b3d" />
<path d="M822 138 L826 128 Q834 116 846 122 Q856 128 858 142 L862 160 Z" fill="#47484a"/>
<path d="M822 138 L826 128 Q834 116 846 122 Q838 124 836 134 L838 146 Z" fill="#505153"/>
<polygon points="988.0,250.0 996.0,245.0 1035.0,274.0 1035.0,308.0 1026.0,315.7 1026.0,287.5" fill="#38393b" />
<polygon points="988.0,250.0 996.0,245.0 1035.0,274.0 1026.0,279.5" fill="#454648" />
<polygon points="204.0,497.0 178.0,527.0 178.0,572.0 186.0,582.0 194.0,656.0 215.0,705.0 300.0,742.0 326.0,715.0 423.0,769.0 486.0,720.9 485.3,688.8 213.0,489.5" fill="#0c0a0b" />
<polygon points="192.0,640.0 215.0,705.0 300.0,742.0 326.0,715.0 423.0,769.0 395.0,795.0 250.0,770.0 185.0,700.0" fill="#0c0a0b" filter="url(#b4)" opacity="0.7"/>
<polygon points="213.0,489.5 485.3,688.8 485.3,700.8 213.0,501.5" fill="#cfce46" />
<polygon points="203.9,496.7 251.6,532.2 251.6,548.0 203.9,512.0" fill="#141415" />
<polygon points="294.5,563.4 385.0,630.5 385.0,700.0 294.5,640.0" fill="#111112" />
<polygon points="427.2,663.9 475.7,697.9 475.7,727.0 427.2,705.0" fill="#131314" />
<g>
<defs><linearGradient id="sBg" gradientUnits="userSpaceOnUse" x1="-69.7" y1="889.1" x2="-10.3" y2="969.6"><stop offset="0" stop-color="#77777a"/><stop offset="0.06" stop-color="#98989b"/><stop offset="0.2" stop-color="#b0b0b2"/><stop offset="0.4" stop-color="#9b9b9d"/><stop offset="0.6" stop-color="#858587"/><stop offset="0.8" stop-color="#6c6c6e"/><stop offset="1" stop-color="#525254"/></linearGradient><linearGradient id="sBd" gradientUnits="userSpaceOnUse" x1="-69.7" y1="889.1" x2="-10.3" y2="969.6"><stop offset="0" stop-color="#7a7a7c"/><stop offset="0.2" stop-color="#727274"/><stop offset="0.45" stop-color="#5a5a5c"/><stop offset="0.75" stop-color="#3e3e40"/><stop offset="1" stop-color="#2e2e30"/></linearGradient></defs>
<polygon points="-68.8,890.3 300.5,617.8 356.6,693.8 -12.7,966.4" fill="url(#sBd)"/>
<path d="M301.8 636.3 L302.5 632.7 L303.8 629.7 L305.7 627.3 L308.1 625.5 L310.9 624.4 L314.2 624.1 L317.8 624.5 L321.7 625.6 L325.7 627.4 L329.9 629.8 L334.0 632.9 L338.0 636.5 L341.8 640.6 L345.3 645.0 L348.5 649.6 L351.3 654.5 L353.5 659.4 L355.2 664.2 L356.4 668.9 L356.9 673.3 L356.8 677.3 L356.1 680.9 L354.8 683.9 L353.0 686.3 L350.6 688.1 L347.7 689.2 L344.4 689.5 L340.8 689.1" fill="none" stroke="url(#sBg)" stroke-width="24.2" stroke-linejoin="round" stroke-linecap="round"/>
<path d="M307.2 631.5 L309.5 632.0 L311.8 632.7 L314.2 633.6 L316.6 634.8 L319.0 636.3 L321.5 637.9 L323.9 639.8 L326.3 641.8 L328.6 644.0 L330.9 646.4 L333.1 648.9 L335.2 651.5 L337.1 654.3 L338.9 657.1 L340.6 659.9 L342.1 662.8 L343.4 665.7 L344.6 668.6 L345.5 671.4 L346.3 674.2 L346.8 676.9 L347.1 679.5 L347.2 682.0 L347.1 684.3 L346.8 686.5 L346.2 688.5 L345.5 690.4 L344.5 692.0" fill="none" stroke="#3c3c3e" stroke-width="1.4" opacity="0.35"/>
<path d="M337.5 654.9 L338.5 656.4 L339.5 658.1 L340.5 659.7 L341.4 661.3 L342.2 663.0 L343.0 664.6 L343.7 666.3 L344.3 667.9 L344.9 669.6 L345.4 671.2 L345.9 672.8 L346.3 674.4 L346.6 675.9 L346.9 677.4 L347.1 678.9 L347.2 680.4 L347.2 681.8 L347.2 683.1 L347.1 684.5 L346.9 685.7 L346.7 686.9 L346.4 688.1 L346.0 689.2 L345.6 690.2 L345.1 691.1 L344.5 692.0 L343.9 692.8 L343.2 693.6" fill="none" stroke="#2c2c2e" stroke-width="2.6" opacity="0.45" stroke-linecap="round"/>
<path d="M318.7 620.4 L320.5 620.4 L322.4 620.6 L324.4 621.1 L326.4 621.7 L328.5 622.5 L330.6 623.6 L332.8 624.7 L334.9 626.1 L337.1 627.6 L339.2 629.3 L341.3 631.1 L343.4 633.1 L345.4 635.2 L347.3 637.4 L349.2 639.6 L351.0 642.0 L352.6 644.4 L354.2 646.9 L355.6 649.4 L356.9 652.0 L358.1 654.5 L359.1 657.1 L360.0 659.6 L360.7 662.1 L361.3 664.5 L361.7 666.8 L361.9 669.1 L362.0 671.3" fill="none" stroke="#d2d2d3" stroke-width="1.8" opacity="0.28"/>
<ellipse cx="319.2" cy="624.8" rx="8.0" ry="3.9" fill="#fff" opacity="0.97" transform="rotate(15.2 319.2 624.8)" filter="url(#b1)"/>
<ellipse cx="341.6" cy="640.3" rx="6.5" ry="3.2" fill="#fff" opacity="0.85" transform="rotate(49.1 341.6 640.3)" filter="url(#b1)"/>
<path d="M276.9 654.7 L277.6 651.1 L278.9 648.1 L280.7 645.7 L283.1 643.9 L286.0 642.8 L289.3 642.5 L292.9 642.9 L296.8 644.0 L300.8 645.8 L304.9 648.2 L309.0 651.3 L313.0 654.9 L316.9 659.0 L320.4 663.4 L323.6 668.1 L326.3 672.9 L328.6 677.8 L330.3 682.6 L331.4 687.3 L332.0 691.7 L331.9 695.7 L331.2 699.3 L329.9 702.3 L328.0 704.7 L325.6 706.5 L322.8 707.6 L319.5 707.9 L315.9 707.5" fill="none" stroke="url(#sBg)" stroke-width="24.2" stroke-linejoin="round" stroke-linecap="round"/>
<path d="M282.3 649.9 L284.5 650.4 L286.8 651.1 L289.2 652.1 L291.6 653.3 L294.1 654.7 L296.5 656.3 L298.9 658.2 L301.3 660.2 L303.7 662.4 L306.0 664.8 L308.1 667.3 L310.2 670.0 L312.2 672.7 L314.0 675.5 L315.7 678.3 L317.2 681.2 L318.5 684.1 L319.6 687.0 L320.6 689.8 L321.3 692.6 L321.8 695.3 L322.2 697.9 L322.3 700.4 L322.2 702.8 L321.8 704.9 L321.3 706.9 L320.5 708.8 L319.6 710.4" fill="none" stroke="#3c3c3e" stroke-width="1.4" opacity="0.35"/>
<path d="M312.6 673.3 L313.6 674.9 L314.6 676.5 L315.5 678.1 L316.4 679.7 L317.3 681.4 L318.0 683.0 L318.7 684.7 L319.4 686.3 L320.0 688.0 L320.5 689.6 L321.0 691.2 L321.4 692.8 L321.7 694.3 L321.9 695.8 L322.1 697.3 L322.2 698.8 L322.3 700.2 L322.2 701.6 L322.2 702.9 L322.0 704.1 L321.7 705.3 L321.4 706.5 L321.1 707.6 L320.6 708.6 L320.1 709.5 L319.6 710.4 L318.9 711.2 L318.2 712.0" fill="none" stroke="#2c2c2e" stroke-width="2.6" opacity="0.45" stroke-linecap="round"/>
<path d="M293.8 638.8 L295.6 638.8 L297.5 639.1 L299.5 639.5 L301.5 640.1 L303.6 641.0 L305.7 642.0 L307.8 643.2 L310.0 644.5 L312.1 646.0 L314.3 647.7 L316.4 649.5 L318.4 651.5 L320.4 653.6 L322.4 655.8 L324.2 658.0 L326.0 660.4 L327.7 662.8 L329.2 665.3 L330.7 667.8 L332.0 670.4 L333.2 672.9 L334.2 675.5 L335.1 678.0 L335.8 680.5 L336.4 682.9 L336.8 685.2 L337.0 687.5 L337.1 689.7" fill="none" stroke="#d2d2d3" stroke-width="1.8" opacity="0.28"/>
<ellipse cx="294.2" cy="643.2" rx="8.0" ry="3.9" fill="#fff" opacity="0.97" transform="rotate(15.2 294.2 643.2)" filter="url(#b1)"/>
<ellipse cx="316.7" cy="658.8" rx="6.5" ry="3.2" fill="#fff" opacity="0.85" transform="rotate(49.1 316.7 658.8)" filter="url(#b1)"/>
<path d="M251.9 673.1 L252.6 669.5 L253.9 666.5 L255.8 664.1 L258.2 662.3 L261.0 661.2 L264.3 660.9 L267.9 661.3 L271.8 662.4 L275.9 664.2 L280.0 666.7 L284.1 669.7 L288.1 673.3 L291.9 677.4 L295.5 681.8 L298.6 686.5 L301.4 691.3 L303.6 696.2 L305.3 701.0 L306.5 705.7 L307.0 710.1 L306.9 714.1 L306.2 717.7 L304.9 720.7 L303.1 723.1 L300.7 724.9 L297.8 726.0 L294.5 726.3 L290.9 725.9" fill="none" stroke="url(#sBg)" stroke-width="24.2" stroke-linejoin="round" stroke-linecap="round"/>
<path d="M257.3 668.3 L259.6 668.8 L261.9 669.5 L264.3 670.5 L266.7 671.7 L269.1 673.1 L271.6 674.7 L274.0 676.6 L276.4 678.6 L278.7 680.9 L281.0 683.2 L283.2 685.7 L285.3 688.4 L287.2 691.1 L289.0 693.9 L290.7 696.7 L292.2 699.6 L293.5 702.5 L294.7 705.4 L295.6 708.2 L296.4 711.0 L296.9 713.7 L297.2 716.3 L297.3 718.8 L297.2 721.2 L296.9 723.3 L296.4 725.4 L295.6 727.2 L294.7 728.8" fill="none" stroke="#3c3c3e" stroke-width="1.4" opacity="0.35"/>
<path d="M287.6 691.7 L288.7 693.3 L289.7 694.9 L290.6 696.5 L291.5 698.2 L292.3 699.8 L293.1 701.5 L293.8 703.1 L294.4 704.7 L295.0 706.4 L295.6 708.0 L296.0 709.6 L296.4 711.2 L296.7 712.7 L297.0 714.3 L297.2 715.7 L297.3 717.2 L297.3 718.6 L297.3 720.0 L297.2 721.3 L297.0 722.5 L296.8 723.7 L296.5 724.9 L296.1 726.0 L295.7 727.0 L295.2 728.0 L294.6 728.8 L294.0 729.7 L293.3 730.4" fill="none" stroke="#2c2c2e" stroke-width="2.6" opacity="0.45" stroke-linecap="round"/>
<path d="M268.8 657.2 L270.6 657.2 L272.5 657.5 L274.5 657.9 L276.5 658.5 L278.6 659.4 L280.8 660.4 L282.9 661.6 L285.0 662.9 L287.2 664.4 L289.3 666.1 L291.4 668.0 L293.5 669.9 L295.5 672.0 L297.4 674.2 L299.3 676.5 L301.1 678.8 L302.7 681.2 L304.3 683.7 L305.7 686.2 L307.0 688.8 L308.2 691.3 L309.2 693.9 L310.1 696.4 L310.9 698.9 L311.4 701.3 L311.8 703.6 L312.1 705.9 L312.1 708.1" fill="none" stroke="#d2d2d3" stroke-width="1.8" opacity="0.28"/>
<ellipse cx="269.3" cy="661.6" rx="8.0" ry="3.9" fill="#fff" opacity="0.97" transform="rotate(15.2 269.3 661.6)" filter="url(#b1)"/>
<ellipse cx="291.7" cy="677.2" rx="6.5" ry="3.2" fill="#fff" opacity="0.85" transform="rotate(49.1 291.7 677.2)" filter="url(#b1)"/>
<path d="M227.0 691.5 L227.7 687.9 L229.0 684.9 L230.8 682.5 L233.2 680.7 L236.1 679.6 L239.4 679.3 L243.0 679.7 L246.9 680.8 L250.9 682.6 L255.0 685.1 L259.2 688.1 L263.2 691.7 L267.0 695.8 L270.5 700.2 L273.7 704.9 L276.4 709.7 L278.7 714.6 L280.4 719.4 L281.5 724.1 L282.1 728.5 L282.0 732.5 L281.3 736.1 L280.0 739.1 L278.1 741.6 L275.7 743.3 L272.9 744.4 L269.6 744.7 L266.0 744.3" fill="none" stroke="url(#sBg)" stroke-width="24.2" stroke-linejoin="round" stroke-linecap="round"/>
<path d="M232.4 686.7 L234.6 687.2 L236.9 687.9 L239.3 688.9 L241.7 690.1 L244.2 691.5 L246.6 693.2 L249.1 695.0 L251.4 697.0 L253.8 699.3 L256.1 701.6 L258.2 704.1 L260.3 706.8 L262.3 709.5 L264.1 712.3 L265.8 715.1 L267.3 718.0 L268.6 720.9 L269.7 723.8 L270.7 726.6 L271.4 729.4 L272.0 732.1 L272.3 734.7 L272.4 737.2 L272.3 739.6 L272.0 741.8 L271.4 743.8 L270.7 745.6 L269.7 747.2" fill="none" stroke="#3c3c3e" stroke-width="1.4" opacity="0.35"/>
<path d="M262.7 710.1 L263.7 711.7 L264.7 713.3 L265.6 714.9 L266.5 716.6 L267.4 718.2 L268.1 719.9 L268.9 721.5 L269.5 723.2 L270.1 724.8 L270.6 726.4 L271.1 728.0 L271.5 729.6 L271.8 731.1 L272.0 732.7 L272.2 734.2 L272.3 735.6 L272.4 737.0 L272.4 738.4 L272.3 739.7 L272.1 740.9 L271.9 742.2 L271.6 743.3 L271.2 744.4 L270.7 745.4 L270.2 746.4 L269.7 747.2 L269.0 748.1 L268.3 748.8" fill="none" stroke="#2c2c2e" stroke-width="2.6" opacity="0.45" stroke-linecap="round"/>
<path d="M243.9 675.6 L245.7 675.6 L247.6 675.9 L249.6 676.3 L251.6 676.9 L253.7 677.8 L255.8 678.8 L257.9 680.0 L260.1 681.3 L262.2 682.9 L264.4 684.5 L266.5 686.4 L268.5 688.3 L270.6 690.4 L272.5 692.6 L274.4 694.9 L276.1 697.2 L277.8 699.7 L279.4 702.1 L280.8 704.7 L282.1 707.2 L283.3 709.7 L284.3 712.3 L285.2 714.8 L285.9 717.3 L286.5 719.7 L286.9 722.0 L287.1 724.3 L287.2 726.5" fill="none" stroke="#d2d2d3" stroke-width="1.8" opacity="0.28"/>
<ellipse cx="244.3" cy="680.0" rx="8.0" ry="3.9" fill="#fff" opacity="0.97" transform="rotate(15.2 244.3 680.0)" filter="url(#b1)"/>
<ellipse cx="266.8" cy="695.6" rx="6.5" ry="3.2" fill="#fff" opacity="0.85" transform="rotate(49.1 266.8 695.6)" filter="url(#b1)"/>
<path d="M202.0 709.9 L202.7 706.3 L204.0 703.3 L205.9 700.9 L208.3 699.1 L211.2 698.1 L214.4 697.7 L218.1 698.1 L221.9 699.2 L226.0 701.0 L230.1 703.5 L234.2 706.5 L238.2 710.1 L242.0 714.2 L245.6 718.6 L248.7 723.3 L251.5 728.1 L253.7 733.0 L255.5 737.8 L256.6 742.5 L257.1 746.9 L257.0 750.9 L256.4 754.5 L255.1 757.5 L253.2 760.0 L250.8 761.7 L247.9 762.8 L244.6 763.1 L241.0 762.8" fill="none" stroke="url(#sBg)" stroke-width="24.2" stroke-linejoin="round" stroke-linecap="round"/>
<path d="M207.5 705.1 L209.7 705.6 L212.0 706.3 L214.4 707.3 L216.8 708.5 L219.2 709.9 L221.7 711.6 L224.1 713.4 L226.5 715.5 L228.8 717.7 L231.1 720.0 L233.3 722.5 L235.4 725.2 L237.3 727.9 L239.2 730.7 L240.8 733.6 L242.3 736.4 L243.7 739.3 L244.8 742.2 L245.7 745.1 L246.5 747.8 L247.0 750.6 L247.3 753.2 L247.4 755.6 L247.3 758.0 L247.0 760.2 L246.5 762.2 L245.7 764.0 L244.8 765.6" fill="none" stroke="#3c3c3e" stroke-width="1.4" opacity="0.35"/>
<path d="M237.7 728.5 L238.8 730.1 L239.8 731.7 L240.7 733.3 L241.6 735.0 L242.4 736.6 L243.2 738.3 L243.9 739.9 L244.6 741.6 L245.1 743.2 L245.7 744.8 L246.1 746.4 L246.5 748.0 L246.8 749.6 L247.1 751.1 L247.3 752.6 L247.4 754.0 L247.4 755.4 L247.4 756.8 L247.3 758.1 L247.2 759.4 L246.9 760.6 L246.6 761.7 L246.2 762.8 L245.8 763.8 L245.3 764.8 L244.7 765.7 L244.1 766.5 L243.4 767.2" fill="none" stroke="#2c2c2e" stroke-width="2.6" opacity="0.45" stroke-linecap="round"/>
<path d="M218.9 694.0 L220.7 694.0 L222.6 694.3 L224.6 694.7 L226.7 695.4 L228.7 696.2 L230.9 697.2 L233.0 698.4 L235.2 699.7 L237.3 701.3 L239.4 702.9 L241.5 704.8 L243.6 706.7 L245.6 708.8 L247.5 711.0 L249.4 713.3 L251.2 715.6 L252.8 718.1 L254.4 720.5 L255.8 723.1 L257.2 725.6 L258.3 728.2 L259.4 730.7 L260.2 733.2 L261.0 735.7 L261.5 738.1 L261.9 740.5 L262.2 742.7 L262.2 744.9" fill="none" stroke="#d2d2d3" stroke-width="1.8" opacity="0.28"/>
<ellipse cx="219.4" cy="698.4" rx="8.0" ry="3.9" fill="#fff" opacity="0.97" transform="rotate(15.2 219.4 698.4)" filter="url(#b1)"/>
<ellipse cx="241.8" cy="714.0" rx="6.5" ry="3.2" fill="#fff" opacity="0.85" transform="rotate(49.1 241.8 714.0)" filter="url(#b1)"/>
<path d="M177.1 728.3 L177.8 724.8 L179.1 721.7 L181.0 719.3 L183.4 717.5 L186.2 716.5 L189.5 716.1 L193.1 716.5 L197.0 717.6 L201.0 719.4 L205.2 721.9 L209.3 724.9 L213.3 728.5 L217.1 732.6 L220.6 737.0 L223.8 741.7 L226.5 746.5 L228.8 751.4 L230.5 756.2 L231.7 760.9 L232.2 765.3 L232.1 769.3 L231.4 772.9 L230.1 775.9 L228.2 778.4 L225.9 780.1 L223.0 781.2 L219.7 781.5 L216.1 781.2" fill="none" stroke="url(#sBg)" stroke-width="24.2" stroke-linejoin="round" stroke-linecap="round"/>
<path d="M182.5 723.5 L184.8 724.0 L187.1 724.7 L189.4 725.7 L191.9 726.9 L194.3 728.3 L196.7 730.0 L199.2 731.8 L201.6 733.9 L203.9 736.1 L206.2 738.4 L208.4 741.0 L210.4 743.6 L212.4 746.3 L214.2 749.1 L215.9 752.0 L217.4 754.8 L218.7 757.7 L219.9 760.6 L220.8 763.5 L221.5 766.3 L222.1 769.0 L222.4 771.6 L222.5 774.0 L222.4 776.4 L222.1 778.6 L221.5 780.6 L220.8 782.4 L219.8 784.0" fill="none" stroke="#3c3c3e" stroke-width="1.4" opacity="0.35"/>
<path d="M212.8 746.9 L213.8 748.5 L214.8 750.1 L215.8 751.7 L216.6 753.4 L217.5 755.0 L218.3 756.7 L219.0 758.3 L219.6 760.0 L220.2 761.6 L220.7 763.2 L221.2 764.8 L221.6 766.4 L221.9 768.0 L222.2 769.5 L222.3 771.0 L222.5 772.4 L222.5 773.8 L222.5 775.2 L222.4 776.5 L222.2 777.8 L222.0 779.0 L221.7 780.1 L221.3 781.2 L220.9 782.2 L220.4 783.2 L219.8 784.1 L219.1 784.9 L218.4 785.6" fill="none" stroke="#2c2c2e" stroke-width="2.6" opacity="0.45" stroke-linecap="round"/>
<path d="M194.0 712.4 L195.8 712.4 L197.7 712.7 L199.7 713.1 L201.7 713.8 L203.8 714.6 L205.9 715.6 L208.1 716.8 L210.2 718.1 L212.4 719.7 L214.5 721.4 L216.6 723.2 L218.7 725.1 L220.7 727.2 L222.6 729.4 L224.5 731.7 L226.2 734.0 L227.9 736.5 L229.5 739.0 L230.9 741.5 L232.2 744.0 L233.4 746.6 L234.4 749.1 L235.3 751.6 L236.0 754.1 L236.6 756.5 L237.0 758.9 L237.2 761.1 L237.3 763.3" fill="none" stroke="#d2d2d3" stroke-width="1.8" opacity="0.28"/>
<ellipse cx="194.4" cy="716.8" rx="8.0" ry="3.9" fill="#fff" opacity="0.97" transform="rotate(15.2 194.4 716.8)" filter="url(#b1)"/>
<ellipse cx="216.9" cy="732.4" rx="6.5" ry="3.2" fill="#fff" opacity="0.85" transform="rotate(49.1 216.9 732.4)" filter="url(#b1)"/>
<path d="M152.2 746.7 L152.9 743.2 L154.1 740.1 L156.0 737.7 L158.4 735.9 L161.3 734.9 L164.6 734.5 L168.2 734.9 L172.0 736.0 L176.1 737.8 L180.2 740.3 L184.3 743.4 L188.3 747.0 L192.1 751.0 L195.7 755.4 L198.9 760.1 L201.6 764.9 L203.9 769.8 L205.6 774.7 L206.7 779.3 L207.2 783.7 L207.2 787.7 L206.5 791.3 L205.2 794.3 L203.3 796.8 L200.9 798.5 L198.0 799.6 L194.8 800.0 L191.1 799.6" fill="none" stroke="url(#sBg)" stroke-width="24.2" stroke-linejoin="round" stroke-linecap="round"/>
<path d="M157.6 741.9 L159.8 742.4 L162.1 743.1 L164.5 744.1 L166.9 745.3 L169.3 746.7 L171.8 748.4 L174.2 750.2 L176.6 752.3 L179.0 754.5 L181.2 756.9 L183.4 759.4 L185.5 762.0 L187.5 764.7 L189.3 767.5 L190.9 770.4 L192.4 773.3 L193.8 776.1 L194.9 779.0 L195.9 781.9 L196.6 784.7 L197.1 787.4 L197.5 790.0 L197.6 792.5 L197.4 794.8 L197.1 797.0 L196.6 799.0 L195.8 800.8 L194.9 802.4" fill="none" stroke="#3c3c3e" stroke-width="1.4" opacity="0.35"/>
<path d="M187.9 765.3 L188.9 766.9 L189.9 768.5 L190.8 770.1 L191.7 771.8 L192.5 773.4 L193.3 775.1 L194.0 776.7 L194.7 778.4 L195.3 780.0 L195.8 781.6 L196.2 783.2 L196.6 784.8 L197.0 786.4 L197.2 787.9 L197.4 789.4 L197.5 790.8 L197.6 792.2 L197.5 793.6 L197.4 794.9 L197.3 796.2 L197.0 797.4 L196.7 798.5 L196.4 799.6 L195.9 800.6 L195.4 801.6 L194.8 802.5 L194.2 803.3 L193.5 804.0" fill="none" stroke="#2c2c2e" stroke-width="2.6" opacity="0.45" stroke-linecap="round"/>
<path d="M169.0 730.8 L170.9 730.8 L172.8 731.1 L174.7 731.5 L176.8 732.2 L178.9 733.0 L181.0 734.0 L183.1 735.2 L185.3 736.6 L187.4 738.1 L189.6 739.8 L191.7 741.6 L193.7 743.5 L195.7 745.6 L197.7 747.8 L199.5 750.1 L201.3 752.4 L203.0 754.9 L204.5 757.4 L206.0 759.9 L207.3 762.4 L208.4 765.0 L209.5 767.5 L210.4 770.0 L211.1 772.5 L211.6 774.9 L212.0 777.3 L212.3 779.5 L212.3 781.7" fill="none" stroke="#d2d2d3" stroke-width="1.8" opacity="0.28"/>
<ellipse cx="169.5" cy="735.2" rx="8.0" ry="3.9" fill="#fff" opacity="0.97" transform="rotate(15.2 169.5 735.2)" filter="url(#b1)"/>
<ellipse cx="192.0" cy="750.8" rx="6.5" ry="3.2" fill="#fff" opacity="0.85" transform="rotate(49.1 192.0 750.8)" filter="url(#b1)"/>
<path d="M127.2 765.1 L127.9 761.6 L129.2 758.5 L131.1 756.1 L133.5 754.3 L136.3 753.3 L139.6 752.9 L143.2 753.3 L147.1 754.4 L151.1 756.2 L155.3 758.7 L159.4 761.8 L163.4 765.4 L167.2 769.4 L170.7 773.8 L173.9 778.5 L176.7 783.3 L178.9 788.2 L180.6 793.1 L181.8 797.7 L182.3 802.1 L182.2 806.2 L181.5 809.7 L180.2 812.8 L178.4 815.2 L176.0 816.9 L173.1 818.0 L169.8 818.4 L166.2 818.0" fill="none" stroke="url(#sBg)" stroke-width="24.2" stroke-linejoin="round" stroke-linecap="round"/>
<path d="M132.6 760.3 L134.9 760.8 L137.2 761.5 L139.6 762.5 L142.0 763.7 L144.4 765.1 L146.9 766.8 L149.3 768.6 L151.7 770.7 L154.0 772.9 L156.3 775.3 L158.5 777.8 L160.6 780.4 L162.5 783.1 L164.3 785.9 L166.0 788.8 L167.5 791.7 L168.8 794.6 L170.0 797.4 L170.9 800.3 L171.7 803.1 L172.2 805.8 L172.5 808.4 L172.6 810.9 L172.5 813.2 L172.2 815.4 L171.6 817.4 L170.9 819.2 L169.9 820.8" fill="none" stroke="#3c3c3e" stroke-width="1.4" opacity="0.35"/>
<path d="M162.9 783.7 L163.9 785.3 L164.9 786.9 L165.9 788.6 L166.8 790.2 L167.6 791.8 L168.4 793.5 L169.1 795.1 L169.7 796.8 L170.3 798.4 L170.8 800.0 L171.3 801.6 L171.7 803.2 L172.0 804.8 L172.3 806.3 L172.5 807.8 L172.6 809.2 L172.6 810.6 L172.6 812.0 L172.5 813.3 L172.3 814.6 L172.1 815.8 L171.8 816.9 L171.4 818.0 L171.0 819.0 L170.5 820.0 L169.9 820.9 L169.3 821.7 L168.6 822.4" fill="none" stroke="#2c2c2e" stroke-width="2.6" opacity="0.45" stroke-linecap="round"/>
<path d="M144.1 749.2 L145.9 749.3 L147.8 749.5 L149.8 749.9 L151.8 750.6 L153.9 751.4 L156.0 752.4 L158.2 753.6 L160.3 755.0 L162.5 756.5 L164.6 758.2 L166.7 760.0 L168.8 761.9 L170.8 764.0 L172.7 766.2 L174.6 768.5 L176.4 770.9 L178.0 773.3 L179.6 775.8 L181.0 778.3 L182.3 780.8 L183.5 783.4 L184.5 785.9 L185.4 788.4 L186.1 790.9 L186.7 793.3 L187.1 795.7 L187.3 797.9 L187.4 800.1" fill="none" stroke="#d2d2d3" stroke-width="1.8" opacity="0.28"/>
<ellipse cx="144.6" cy="753.6" rx="8.0" ry="3.9" fill="#fff" opacity="0.97" transform="rotate(15.2 144.6 753.6)" filter="url(#b1)"/>
<ellipse cx="167.0" cy="769.2" rx="6.5" ry="3.2" fill="#fff" opacity="0.85" transform="rotate(49.1 167.0 769.2)" filter="url(#b1)"/>
<path d="M102.3 783.6 L103.0 780.0 L104.3 776.9 L106.1 774.5 L108.5 772.8 L111.4 771.7 L114.7 771.3 L118.3 771.7 L122.2 772.8 L126.2 774.6 L130.3 777.1 L134.4 780.2 L138.4 783.8 L142.3 787.8 L145.8 792.2 L149.0 796.9 L151.7 801.7 L154.0 806.6 L155.7 811.5 L156.8 816.1 L157.4 820.5 L157.3 824.6 L156.6 828.1 L155.3 831.2 L153.4 833.6 L151.0 835.4 L148.2 836.4 L144.9 836.8 L141.3 836.4" fill="none" stroke="url(#sBg)" stroke-width="24.2" stroke-linejoin="round" stroke-linecap="round"/>
<path d="M107.7 778.8 L109.9 779.2 L112.2 779.9 L114.6 780.9 L117.0 782.1 L119.5 783.5 L121.9 785.2 L124.3 787.0 L126.7 789.1 L129.1 791.3 L131.3 793.7 L133.5 796.2 L135.6 798.8 L137.6 801.5 L139.4 804.3 L141.1 807.2 L142.6 810.1 L143.9 813.0 L145.0 815.8 L146.0 818.7 L146.7 821.5 L147.2 824.2 L147.6 826.8 L147.7 829.3 L147.6 831.6 L147.2 833.8 L146.7 835.8 L145.9 837.6 L145.0 839.2" fill="none" stroke="#3c3c3e" stroke-width="1.4" opacity="0.35"/>
<path d="M138.0 802.1 L139.0 803.7 L140.0 805.3 L140.9 807.0 L141.8 808.6 L142.7 810.3 L143.4 811.9 L144.1 813.6 L144.8 815.2 L145.4 816.8 L145.9 818.5 L146.4 820.1 L146.8 821.6 L147.1 823.2 L147.3 824.7 L147.5 826.2 L147.6 827.6 L147.7 829.0 L147.6 830.4 L147.6 831.7 L147.4 833.0 L147.1 834.2 L146.8 835.3 L146.5 836.4 L146.0 837.4 L145.5 838.4 L145.0 839.3 L144.3 840.1 L143.6 840.8" fill="none" stroke="#2c2c2e" stroke-width="2.6" opacity="0.45" stroke-linecap="round"/>
<path d="M119.2 767.6 L121.0 767.7 L122.9 767.9 L124.9 768.3 L126.9 769.0 L129.0 769.8 L131.1 770.8 L133.2 772.0 L135.4 773.4 L137.5 774.9 L139.7 776.6 L141.8 778.4 L143.8 780.4 L145.8 782.4 L147.8 784.6 L149.6 786.9 L151.4 789.3 L153.1 791.7 L154.6 794.2 L156.1 796.7 L157.4 799.2 L158.6 801.8 L159.6 804.3 L160.5 806.8 L161.2 809.3 L161.8 811.7 L162.2 814.1 L162.4 816.4 L162.5 818.5" fill="none" stroke="#d2d2d3" stroke-width="1.8" opacity="0.28"/>
<ellipse cx="119.6" cy="772.0" rx="8.0" ry="3.9" fill="#fff" opacity="0.97" transform="rotate(15.2 119.6 772.0)" filter="url(#b1)"/>
<ellipse cx="142.1" cy="787.6" rx="6.5" ry="3.2" fill="#fff" opacity="0.85" transform="rotate(49.1 142.1 787.6)" filter="url(#b1)"/>
<path d="M77.3 802.0 L78.0 798.4 L79.3 795.4 L81.2 792.9 L83.6 791.2 L86.4 790.1 L89.7 789.7 L93.3 790.1 L97.2 791.2 L101.3 793.0 L105.4 795.5 L109.5 798.6 L113.5 802.2 L117.3 806.2 L120.8 810.6 L124.0 815.3 L126.8 820.2 L129.0 825.0 L130.7 829.9 L131.9 834.5 L132.4 838.9 L132.3 843.0 L131.6 846.5 L130.3 849.6 L128.5 852.0 L126.1 853.8 L123.2 854.8 L119.9 855.2 L116.3 854.8" fill="none" stroke="url(#sBg)" stroke-width="24.2" stroke-linejoin="round" stroke-linecap="round"/>
<path d="M82.7 797.2 L85.0 797.6 L87.3 798.4 L89.7 799.3 L92.1 800.5 L94.5 802.0 L97.0 803.6 L99.4 805.5 L101.8 807.5 L104.1 809.7 L106.4 812.1 L108.6 814.6 L110.7 817.2 L112.6 819.9 L114.4 822.7 L116.1 825.6 L117.6 828.5 L118.9 831.4 L120.1 834.3 L121.0 837.1 L121.8 839.9 L122.3 842.6 L122.6 845.2 L122.7 847.7 L122.6 850.0 L122.3 852.2 L121.8 854.2 L121.0 856.0 L120.1 857.6" fill="none" stroke="#3c3c3e" stroke-width="1.4" opacity="0.35"/>
<path d="M113.0 820.5 L114.1 822.1 L115.1 823.7 L116.0 825.4 L116.9 827.0 L117.7 828.7 L118.5 830.3 L119.2 832.0 L119.8 833.6 L120.4 835.2 L121.0 836.9 L121.4 838.5 L121.8 840.0 L122.1 841.6 L122.4 843.1 L122.6 844.6 L122.7 846.0 L122.7 847.5 L122.7 848.8 L122.6 850.1 L122.4 851.4 L122.2 852.6 L121.9 853.7 L121.5 854.8 L121.1 855.9 L120.6 856.8 L120.0 857.7 L119.4 858.5 L118.7 859.2" fill="none" stroke="#2c2c2e" stroke-width="2.6" opacity="0.45" stroke-linecap="round"/>
<path d="M94.2 786.0 L96.0 786.1 L97.9 786.3 L99.9 786.8 L101.9 787.4 L104.0 788.2 L106.1 789.2 L108.3 790.4 L110.4 791.8 L112.6 793.3 L114.7 795.0 L116.8 796.8 L118.9 798.8 L120.9 800.8 L122.8 803.0 L124.7 805.3 L126.5 807.7 L128.1 810.1 L129.7 812.6 L131.1 815.1 L132.4 817.6 L133.6 820.2 L134.6 822.7 L135.5 825.2 L136.3 827.7 L136.8 830.1 L137.2 832.5 L137.4 834.8 L137.5 836.9" fill="none" stroke="#d2d2d3" stroke-width="1.8" opacity="0.28"/>
<ellipse cx="94.7" cy="790.4" rx="8.0" ry="3.9" fill="#fff" opacity="0.97" transform="rotate(15.2 94.7 790.4)" filter="url(#b1)"/>
<ellipse cx="117.1" cy="806.0" rx="6.5" ry="3.2" fill="#fff" opacity="0.85" transform="rotate(49.1 117.1 806.0)" filter="url(#b1)"/>
<path d="M52.4 820.4 L53.1 816.8 L54.4 813.8 L56.2 811.3 L58.6 809.6 L61.5 808.5 L64.8 808.2 L68.4 808.5 L72.3 809.7 L76.3 811.5 L80.4 813.9 L84.6 817.0 L88.6 820.6 L92.4 824.6 L95.9 829.0 L99.1 833.7 L101.8 838.6 L104.1 843.5 L105.8 848.3 L106.9 853.0 L107.5 857.3 L107.4 861.4 L106.7 864.9 L105.4 868.0 L103.5 870.4 L101.1 872.2 L98.3 873.2 L95.0 873.6 L91.4 873.2" fill="none" stroke="url(#sBg)" stroke-width="24.2" stroke-linejoin="round" stroke-linecap="round"/>
<path d="M57.8 815.6 L60.0 816.0 L62.3 816.8 L64.7 817.7 L67.1 818.9 L69.6 820.4 L72.0 822.0 L74.5 823.9 L76.8 825.9 L79.2 828.1 L81.5 830.5 L83.6 833.0 L85.7 835.6 L87.7 838.3 L89.5 841.1 L91.2 844.0 L92.7 846.9 L94.0 849.8 L95.1 852.7 L96.1 855.5 L96.8 858.3 L97.4 861.0 L97.7 863.6 L97.8 866.1 L97.7 868.4 L97.3 870.6 L96.8 872.6 L96.1 874.4 L95.1 876.0" fill="none" stroke="#3c3c3e" stroke-width="1.4" opacity="0.35"/>
<path d="M88.1 838.9 L89.1 840.5 L90.1 842.1 L91.0 843.8 L91.9 845.4 L92.8 847.1 L93.5 848.7 L94.3 850.4 L94.9 852.0 L95.5 853.6 L96.0 855.3 L96.5 856.9 L96.9 858.4 L97.2 860.0 L97.4 861.5 L97.6 863.0 L97.7 864.5 L97.8 865.9 L97.8 867.2 L97.7 868.5 L97.5 869.8 L97.3 871.0 L97.0 872.2 L96.6 873.2 L96.1 874.3 L95.6 875.2 L95.1 876.1 L94.4 876.9 L93.7 877.7" fill="none" stroke="#2c2c2e" stroke-width="2.6" opacity="0.45" stroke-linecap="round"/>
<path d="M69.3 804.4 L71.1 804.5 L73.0 804.7 L75.0 805.2 L77.0 805.8 L79.1 806.6 L81.2 807.6 L83.3 808.8 L85.5 810.2 L87.6 811.7 L89.8 813.4 L91.9 815.2 L93.9 817.2 L96.0 819.2 L97.9 821.4 L99.8 823.7 L101.5 826.1 L103.2 828.5 L104.8 831.0 L106.2 833.5 L107.5 836.1 L108.7 838.6 L109.7 841.1 L110.6 843.7 L111.3 846.1 L111.9 848.6 L112.3 850.9 L112.5 853.2 L112.6 855.3" fill="none" stroke="#d2d2d3" stroke-width="1.8" opacity="0.28"/>
<ellipse cx="69.7" cy="808.9" rx="8.0" ry="3.9" fill="#fff" opacity="0.97" transform="rotate(15.2 69.7 808.9)" filter="url(#b1)"/>
<ellipse cx="92.2" cy="824.4" rx="6.5" ry="3.2" fill="#fff" opacity="0.85" transform="rotate(49.1 92.2 824.4)" filter="url(#b1)"/>
<path d="M27.4 838.8 L28.1 835.2 L29.4 832.2 L31.3 829.7 L33.7 828.0 L36.6 826.9 L39.8 826.6 L43.5 827.0 L47.3 828.1 L51.4 829.9 L55.5 832.3 L59.6 835.4 L63.6 839.0 L67.4 843.0 L71.0 847.5 L74.1 852.1 L76.9 857.0 L79.1 861.9 L80.9 866.7 L82.0 871.4 L82.5 875.8 L82.4 879.8 L81.8 883.4 L80.5 886.4 L78.6 888.8 L76.2 890.6 L73.3 891.6 L70.0 892.0 L66.4 891.6" fill="none" stroke="url(#sBg)" stroke-width="24.2" stroke-linejoin="round" stroke-linecap="round"/>
<path d="M32.9 834.0 L35.1 834.4 L37.4 835.2 L39.8 836.1 L42.2 837.3 L44.6 838.8 L47.1 840.4 L49.5 842.3 L51.9 844.3 L54.2 846.5 L56.5 848.9 L58.7 851.4 L60.8 854.0 L62.7 856.8 L64.6 859.6 L66.2 862.4 L67.7 865.3 L69.1 868.2 L70.2 871.1 L71.1 873.9 L71.9 876.7 L72.4 879.4 L72.7 882.0 L72.8 884.5 L72.7 886.8 L72.4 889.0 L71.9 891.0 L71.1 892.8 L70.2 894.4" fill="none" stroke="#3c3c3e" stroke-width="1.4" opacity="0.35"/>
<path d="M63.1 857.3 L64.2 858.9 L65.2 860.6 L66.1 862.2 L67.0 863.8 L67.8 865.5 L68.6 867.1 L69.3 868.8 L70.0 870.4 L70.5 872.1 L71.1 873.7 L71.5 875.3 L71.9 876.9 L72.2 878.4 L72.5 879.9 L72.7 881.4 L72.8 882.9 L72.8 884.3 L72.8 885.6 L72.7 886.9 L72.6 888.2 L72.3 889.4 L72.0 890.6 L71.6 891.6 L71.2 892.7 L70.7 893.6 L70.1 894.5 L69.5 895.3 L68.8 896.1" fill="none" stroke="#2c2c2e" stroke-width="2.6" opacity="0.45" stroke-linecap="round"/>
<path d="M44.3 822.8 L46.1 822.9 L48.0 823.1 L50.0 823.6 L52.1 824.2 L54.1 825.0 L56.3 826.0 L58.4 827.2 L60.6 828.6 L62.7 830.1 L64.8 831.8 L66.9 833.6 L69.0 835.6 L71.0 837.7 L72.9 839.8 L74.8 842.1 L76.6 844.5 L78.2 846.9 L79.8 849.4 L81.2 851.9 L82.6 854.5 L83.7 857.0 L84.8 859.5 L85.6 862.1 L86.4 864.5 L86.9 867.0 L87.3 869.3 L87.6 871.6 L87.6 873.8" fill="none" stroke="#d2d2d3" stroke-width="1.8" opacity="0.28"/>
<ellipse cx="44.8" cy="827.3" rx="8.0" ry="3.9" fill="#fff" opacity="0.97" transform="rotate(15.2 44.8 827.3)" filter="url(#b1)"/>
<ellipse cx="67.2" cy="842.8" rx="6.5" ry="3.2" fill="#fff" opacity="0.85" transform="rotate(49.1 67.2 842.8)" filter="url(#b1)"/>
<path d="M2.5 857.2 L3.2 853.6 L4.5 850.6 L6.4 848.2 L8.8 846.4 L11.6 845.3 L14.9 845.0 L18.5 845.4 L22.4 846.5 L26.4 848.3 L30.6 850.7 L34.7 853.8 L38.7 857.4 L42.5 861.5 L46.0 865.9 L49.2 870.5 L51.9 875.4 L54.2 880.3 L55.9 885.1 L57.1 889.8 L57.6 894.2 L57.5 898.2 L56.8 901.8 L55.5 904.8 L53.6 907.2 L51.3 909.0 L48.4 910.1 L45.1 910.4 L41.5 910.0" fill="none" stroke="url(#sBg)" stroke-width="24.2" stroke-linejoin="round" stroke-linecap="round"/>
<path d="M7.9 852.4 L10.2 852.9 L12.5 853.6 L14.8 854.5 L17.3 855.7 L19.7 857.2 L22.1 858.8 L24.6 860.7 L27.0 862.7 L29.3 864.9 L31.6 867.3 L33.8 869.8 L35.8 872.4 L37.8 875.2 L39.6 878.0 L41.3 880.8 L42.8 883.7 L44.1 886.6 L45.3 889.5 L46.2 892.3 L46.9 895.1 L47.5 897.8 L47.8 900.4 L47.9 902.9 L47.8 905.2 L47.5 907.4 L46.9 909.4 L46.2 911.2 L45.2 912.9" fill="none" stroke="#3c3c3e" stroke-width="1.4" opacity="0.35"/>
<path d="M38.2 875.7 L39.2 877.3 L40.2 879.0 L41.2 880.6 L42.0 882.2 L42.9 883.9 L43.7 885.5 L44.4 887.2 L45.0 888.8 L45.6 890.5 L46.1 892.1 L46.6 893.7 L47.0 895.3 L47.3 896.8 L47.6 898.3 L47.7 899.8 L47.9 901.3 L47.9 902.7 L47.9 904.0 L47.8 905.4 L47.6 906.6 L47.4 907.8 L47.1 909.0 L46.7 910.1 L46.3 911.1 L45.8 912.0 L45.2 912.9 L44.5 913.7 L43.8 914.5" fill="none" stroke="#2c2c2e" stroke-width="2.6" opacity="0.45" stroke-linecap="round"/>
<path d="M19.4 841.2 L21.2 841.3 L23.1 841.5 L25.1 842.0 L27.1 842.6 L29.2 843.4 L31.3 844.5 L33.5 845.6 L35.6 847.0 L37.8 848.5 L39.9 850.2 L42.0 852.0 L44.1 854.0 L46.1 856.1 L48.0 858.3 L49.9 860.5 L51.6 862.9 L53.3 865.3 L54.9 867.8 L56.3 870.3 L57.6 872.9 L58.8 875.4 L59.8 878.0 L60.7 880.5 L61.4 882.9 L62.0 885.4 L62.4 887.7 L62.6 890.0 L62.7 892.2" fill="none" stroke="#d2d2d3" stroke-width="1.8" opacity="0.28"/>
<ellipse cx="19.8" cy="845.7" rx="8.0" ry="3.9" fill="#fff" opacity="0.97" transform="rotate(15.2 19.8 845.7)" filter="url(#b1)"/>
<ellipse cx="42.3" cy="861.2" rx="6.5" ry="3.2" fill="#fff" opacity="0.85" transform="rotate(49.1 42.3 861.2)" filter="url(#b1)"/>
<path d="M-22.4 875.6 L-21.7 872.0 L-20.5 869.0 L-18.6 866.6 L-16.2 864.8 L-13.3 863.7 L-10.0 863.4 L-6.4 863.8 L-2.6 864.9 L1.5 866.7 L5.6 869.1 L9.7 872.2 L13.7 875.8 L17.5 879.9 L21.1 884.3 L24.3 889.0 L27.0 893.8 L29.3 898.7 L31.0 903.5 L32.1 908.2 L32.6 912.6 L32.6 916.6 L31.9 920.2 L30.6 923.2 L28.7 925.6 L26.3 927.4 L23.4 928.5 L20.2 928.8 L16.5 928.4" fill="none" stroke="url(#sBg)" stroke-width="24.2" stroke-linejoin="round" stroke-linecap="round"/>
<path d="M-17.0 870.8 L-14.8 871.3 L-12.5 872.0 L-10.1 872.9 L-7.7 874.2 L-5.3 875.6 L-2.8 877.2 L-0.4 879.1 L2.0 881.1 L4.4 883.3 L6.6 885.7 L8.8 888.2 L10.9 890.8 L12.9 893.6 L14.7 896.4 L16.3 899.2 L17.8 902.1 L19.2 905.0 L20.3 907.9 L21.3 910.7 L22.0 913.5 L22.5 916.2 L22.9 918.8 L23.0 921.3 L22.8 923.7 L22.5 925.8 L22.0 927.8 L21.2 929.7 L20.3 931.3" fill="none" stroke="#3c3c3e" stroke-width="1.4" opacity="0.35"/>
<path d="M13.3 894.2 L14.3 895.8 L15.3 897.4 L16.2 899.0 L17.1 900.6 L17.9 902.3 L18.7 903.9 L19.4 905.6 L20.1 907.2 L20.7 908.9 L21.2 910.5 L21.6 912.1 L22.0 913.7 L22.4 915.2 L22.6 916.7 L22.8 918.2 L22.9 919.7 L23.0 921.1 L22.9 922.4 L22.8 923.8 L22.7 925.0 L22.4 926.2 L22.1 927.4 L21.8 928.5 L21.3 929.5 L20.8 930.4 L20.2 931.3 L19.6 932.1 L18.9 932.9" fill="none" stroke="#2c2c2e" stroke-width="2.6" opacity="0.45" stroke-linecap="round"/>
<path d="M-5.6 859.7 L-3.7 859.7 L-1.8 859.9 L0.1 860.4 L2.2 861.0 L4.3 861.8 L6.4 862.9 L8.5 864.0 L10.7 865.4 L12.8 866.9 L15.0 868.6 L17.1 870.4 L19.1 872.4 L21.1 874.5 L23.1 876.7 L24.9 878.9 L26.7 881.3 L28.4 883.7 L29.9 886.2 L31.4 888.7 L32.7 891.3 L33.8 893.8 L34.9 896.4 L35.8 898.9 L36.5 901.4 L37.0 903.8 L37.4 906.1 L37.7 908.4 L37.7 910.6" fill="none" stroke="#d2d2d3" stroke-width="1.8" opacity="0.28"/>
<ellipse cx="-5.1" cy="864.1" rx="8.0" ry="3.9" fill="#fff" opacity="0.97" transform="rotate(15.2 -5.1 864.1)" filter="url(#b1)"/>
<ellipse cx="17.4" cy="879.6" rx="6.5" ry="3.2" fill="#fff" opacity="0.85" transform="rotate(49.1 17.4 879.6)" filter="url(#b1)"/>
<path d="M-47.4 894.0 L-46.7 890.4 L-45.4 887.4 L-43.5 885.0 L-41.1 883.2 L-38.3 882.1 L-35.0 881.8 L-31.4 882.2 L-27.5 883.3 L-23.5 885.1 L-19.3 887.6 L-15.2 890.6 L-11.2 894.2 L-7.4 898.3 L-3.9 902.7 L-0.7 907.4 L2.1 912.2 L4.3 917.1 L6.0 921.9 L7.2 926.6 L7.7 931.0 L7.6 935.0 L6.9 938.6 L5.6 941.6 L3.8 944.0 L1.4 945.8 L-1.5 946.9 L-4.8 947.2 L-8.4 946.8" fill="none" stroke="url(#sBg)" stroke-width="24.2" stroke-linejoin="round" stroke-linecap="round"/>
<path d="M-42.0 889.2 L-39.7 889.7 L-37.4 890.4 L-35.0 891.4 L-32.6 892.6 L-30.2 894.0 L-27.7 895.6 L-25.3 897.5 L-22.9 899.5 L-20.6 901.7 L-18.3 904.1 L-16.1 906.6 L-14.0 909.3 L-12.1 912.0 L-10.3 914.8 L-8.6 917.6 L-7.1 920.5 L-5.8 923.4 L-4.6 926.3 L-3.7 929.1 L-2.9 931.9 L-2.4 934.6 L-2.1 937.2 L-2.0 939.7 L-2.1 942.1 L-2.4 944.2 L-3.0 946.2 L-3.7 948.1 L-4.7 949.7" fill="none" stroke="#3c3c3e" stroke-width="1.4" opacity="0.35"/>
<path d="M-11.7 912.6 L-10.7 914.2 L-9.7 915.8 L-8.7 917.4 L-7.8 919.1 L-7.0 920.7 L-6.2 922.4 L-5.5 924.0 L-4.9 925.6 L-4.3 927.3 L-3.8 928.9 L-3.3 930.5 L-2.9 932.1 L-2.6 933.6 L-2.3 935.2 L-2.1 936.6 L-2.0 938.1 L-2.0 939.5 L-2.0 940.9 L-2.1 942.2 L-2.3 943.4 L-2.5 944.6 L-2.8 945.8 L-3.2 946.9 L-3.6 947.9 L-4.1 948.8 L-4.7 949.7 L-5.3 950.5 L-6.0 951.3" fill="none" stroke="#2c2c2e" stroke-width="2.6" opacity="0.45" stroke-linecap="round"/>
<path d="M-30.5 878.1 L-28.7 878.1 L-26.8 878.4 L-24.8 878.8 L-22.8 879.4 L-20.7 880.3 L-18.6 881.3 L-16.4 882.5 L-14.3 883.8 L-12.1 885.3 L-10.0 887.0 L-7.9 888.8 L-5.8 890.8 L-3.8 892.9 L-1.9 895.1 L-0.0 897.3 L1.7 899.7 L3.4 902.1 L5.0 904.6 L6.4 907.1 L7.7 909.7 L8.9 912.2 L9.9 914.8 L10.8 917.3 L11.5 919.8 L12.1 922.2 L12.5 924.5 L12.7 926.8 L12.8 929.0" fill="none" stroke="#d2d2d3" stroke-width="1.8" opacity="0.28"/>
<ellipse cx="-30.0" cy="882.5" rx="8.0" ry="3.9" fill="#fff" opacity="0.97" transform="rotate(15.2 -30.0 882.5)" filter="url(#b1)"/>
<ellipse cx="-7.6" cy="898.1" rx="6.5" ry="3.2" fill="#fff" opacity="0.85" transform="rotate(49.1 -7.6 898.1)" filter="url(#b1)"/>
<path d="M-72.3 912.4 L-71.6 908.8 L-70.3 905.8 L-68.5 903.4 L-66.1 901.6 L-63.2 900.5 L-59.9 900.2 L-56.3 900.6 L-52.4 901.7 L-48.4 903.5 L-44.3 906.0 L-40.2 909.0 L-36.2 912.6 L-32.3 916.7 L-28.8 921.1 L-25.6 925.8 L-22.9 930.6 L-20.6 935.5 L-18.9 940.3 L-17.8 945.0 L-17.2 949.4 L-17.3 953.4 L-18.0 957.0 L-19.3 960.0 L-21.2 962.4 L-23.6 964.2 L-26.4 965.3 L-29.7 965.6 L-33.3 965.2" fill="none" stroke="url(#sBg)" stroke-width="24.2" stroke-linejoin="round" stroke-linecap="round"/>
<path d="M-66.9 907.6 L-64.7 908.1 L-62.4 908.8 L-60.0 909.8 L-57.6 911.0 L-55.1 912.4 L-52.7 914.0 L-50.3 915.9 L-47.9 917.9 L-45.5 920.2 L-43.3 922.5 L-41.1 925.0 L-39.0 927.7 L-37.0 930.4 L-35.2 933.2 L-33.5 936.0 L-32.0 938.9 L-30.7 941.8 L-29.6 944.7 L-28.6 947.5 L-27.9 950.3 L-27.4 953.0 L-27.0 955.6 L-26.9 958.1 L-27.0 960.5 L-27.4 962.6 L-27.9 964.7 L-28.7 966.5 L-29.6 968.1" fill="none" stroke="#3c3c3e" stroke-width="1.4" opacity="0.35"/>
<path d="M-36.6 931.0 L-35.6 932.6 L-34.6 934.2 L-33.7 935.8 L-32.8 937.5 L-32.0 939.1 L-31.2 940.8 L-30.5 942.4 L-29.8 944.1 L-29.2 945.7 L-28.7 947.3 L-28.2 948.9 L-27.8 950.5 L-27.5 952.0 L-27.3 953.6 L-27.1 955.0 L-27.0 956.5 L-26.9 957.9 L-27.0 959.3 L-27.0 960.6 L-27.2 961.8 L-27.5 963.0 L-27.8 964.2 L-28.1 965.3 L-28.6 966.3 L-29.1 967.3 L-29.6 968.1 L-30.3 969.0 L-31.0 969.7" fill="none" stroke="#2c2c2e" stroke-width="2.6" opacity="0.45" stroke-linecap="round"/>
<path d="M-55.4 896.5 L-53.6 896.5 L-51.7 896.8 L-49.7 897.2 L-47.7 897.8 L-45.6 898.7 L-43.5 899.7 L-41.4 900.9 L-39.2 902.2 L-37.1 903.8 L-34.9 905.4 L-32.8 907.3 L-30.8 909.2 L-28.8 911.3 L-26.8 913.5 L-25.0 915.8 L-23.2 918.1 L-21.5 920.5 L-20.0 923.0 L-18.5 925.6 L-17.2 928.1 L-16.0 930.6 L-15.0 933.2 L-14.1 935.7 L-13.4 938.2 L-12.8 940.6 L-12.4 942.9 L-12.2 945.2 L-12.1 947.4" fill="none" stroke="#d2d2d3" stroke-width="1.8" opacity="0.28"/>
<ellipse cx="-55.0" cy="900.9" rx="8.0" ry="3.9" fill="#fff" opacity="0.97" transform="rotate(15.2 -55.0 900.9)" filter="url(#b1)"/>
<ellipse cx="-32.5" cy="916.5" rx="6.5" ry="3.2" fill="#fff" opacity="0.85" transform="rotate(49.1 -32.5 916.5)" filter="url(#b1)"/>
<path d="M-97.3 930.8 L-96.6 927.2 L-95.3 924.2 L-93.4 921.8 L-91.0 920.0 L-88.2 918.9 L-84.9 918.6 L-81.3 919.0 L-77.4 920.1 L-73.3 921.9 L-69.2 924.4 L-65.1 927.4 L-61.1 931.0 L-57.3 935.1 L-53.8 939.5 L-50.6 944.2 L-47.8 949.0 L-45.6 953.9 L-43.9 958.7 L-42.7 963.4 L-42.2 967.8 L-42.3 971.8 L-43.0 975.4 L-44.3 978.4 L-46.1 980.9 L-48.5 982.6 L-51.4 983.7 L-54.7 984.0 L-58.3 983.6" fill="none" stroke="url(#sBg)" stroke-width="24.2" stroke-linejoin="round" stroke-linecap="round"/>
<path d="M-91.9 926.0 L-89.6 926.5 L-87.3 927.2 L-84.9 928.2 L-82.5 929.4 L-80.1 930.8 L-77.6 932.5 L-75.2 934.3 L-72.8 936.3 L-70.5 938.6 L-68.2 940.9 L-66.0 943.4 L-63.9 946.1 L-62.0 948.8 L-60.2 951.6 L-58.5 954.4 L-57.0 957.3 L-55.7 960.2 L-54.5 963.1 L-53.6 966.0 L-52.8 968.7 L-52.3 971.4 L-52.0 974.0 L-51.9 976.5 L-52.0 978.9 L-52.3 981.1 L-52.8 983.1 L-53.6 984.9 L-54.5 986.5" fill="none" stroke="#3c3c3e" stroke-width="1.4" opacity="0.35"/>
<path d="M-61.6 949.4 L-60.5 951.0 L-59.5 952.6 L-58.6 954.2 L-57.7 955.9 L-56.9 957.5 L-56.1 959.2 L-55.4 960.8 L-54.8 962.5 L-54.2 964.1 L-53.6 965.7 L-53.2 967.3 L-52.8 968.9 L-52.5 970.4 L-52.2 972.0 L-52.0 973.5 L-51.9 974.9 L-51.9 976.3 L-51.9 977.7 L-52.0 979.0 L-52.2 980.2 L-52.4 981.5 L-52.7 982.6 L-53.1 983.7 L-53.5 984.7 L-54.0 985.7 L-54.6 986.5 L-55.2 987.4 L-55.9 988.1" fill="none" stroke="#2c2c2e" stroke-width="2.6" opacity="0.45" stroke-linecap="round"/>
<path d="M-80.4 914.9 L-78.6 914.9 L-76.7 915.2 L-74.7 915.6 L-72.7 916.2 L-70.6 917.1 L-68.5 918.1 L-66.3 919.3 L-64.2 920.6 L-62.0 922.2 L-59.9 923.8 L-57.8 925.7 L-55.7 927.6 L-53.7 929.7 L-51.8 931.9 L-49.9 934.2 L-48.1 936.5 L-46.5 939.0 L-44.9 941.4 L-43.5 944.0 L-42.2 946.5 L-41.0 949.0 L-40.0 951.6 L-39.1 954.1 L-38.3 956.6 L-37.8 959.0 L-37.4 961.4 L-37.2 963.6 L-37.1 965.8" fill="none" stroke="#d2d2d3" stroke-width="1.8" opacity="0.28"/>
<ellipse cx="-79.9" cy="919.3" rx="8.0" ry="3.9" fill="#fff" opacity="0.97" transform="rotate(15.2 -79.9 919.3)" filter="url(#b1)"/>
<ellipse cx="-57.5" cy="934.9" rx="6.5" ry="3.2" fill="#fff" opacity="0.85" transform="rotate(49.1 -57.5 934.9)" filter="url(#b1)"/>
<path d="M-122.2 949.2 L-121.5 945.7 L-120.2 942.6 L-118.4 940.2 L-116.0 938.4 L-113.1 937.4 L-109.8 937.0 L-106.2 937.4 L-102.3 938.5 L-98.3 940.3 L-94.2 942.8 L-90.0 945.8 L-86.0 949.4 L-82.2 953.5 L-78.7 957.9 L-75.5 962.6 L-72.8 967.4 L-70.5 972.3 L-68.8 977.1 L-67.7 981.8 L-67.1 986.2 L-67.2 990.2 L-67.9 993.8 L-69.2 996.8 L-71.1 999.3 L-73.5 1001.0 L-76.3 1002.1 L-79.6 1002.4 L-83.2 1002.1" fill="none" stroke="url(#sBg)" stroke-width="24.2" stroke-linejoin="round" stroke-linecap="round"/>
<path d="M-116.8 944.4 L-114.6 944.9 L-112.3 945.6 L-109.9 946.6 L-107.5 947.8 L-105.0 949.2 L-102.6 950.9 L-100.1 952.7 L-97.8 954.8 L-95.4 957.0 L-93.1 959.3 L-91.0 961.9 L-88.9 964.5 L-86.9 967.2 L-85.1 970.0 L-83.4 972.9 L-81.9 975.7 L-80.6 978.6 L-79.5 981.5 L-78.5 984.4 L-77.8 987.1 L-77.2 989.9 L-76.9 992.5 L-76.8 994.9 L-76.9 997.3 L-77.3 999.5 L-77.8 1001.5 L-78.5 1003.3 L-79.5 1004.9" fill="none" stroke="#3c3c3e" stroke-width="1.4" opacity="0.35"/>
<path d="M-86.5 967.8 L-85.5 969.4 L-84.5 971.0 L-83.6 972.6 L-82.7 974.3 L-81.8 975.9 L-81.1 977.6 L-80.3 979.2 L-79.7 980.9 L-79.1 982.5 L-78.6 984.1 L-78.1 985.7 L-77.7 987.3 L-77.4 988.9 L-77.2 990.4 L-77.0 991.9 L-76.9 993.3 L-76.8 994.7 L-76.8 996.1 L-76.9 997.4 L-77.1 998.7 L-77.3 999.9 L-77.6 1001.0 L-78.0 1002.1 L-78.5 1003.1 L-79.0 1004.1 L-79.5 1005.0 L-80.2 1005.8 L-80.9 1006.5" fill="none" stroke="#2c2c2e" stroke-width="2.6" opacity="0.45" stroke-linecap="round"/>
<path d="M-105.3 933.3 L-103.5 933.3 L-101.6 933.6 L-99.6 934.0 L-97.6 934.7 L-95.5 935.5 L-93.4 936.5 L-91.3 937.7 L-89.1 939.0 L-87.0 940.6 L-84.8 942.2 L-82.7 944.1 L-80.7 946.0 L-78.6 948.1 L-76.7 950.3 L-74.8 952.6 L-73.1 954.9 L-71.4 957.4 L-69.8 959.8 L-68.4 962.4 L-67.1 964.9 L-65.9 967.5 L-64.9 970.0 L-64.0 972.5 L-63.3 975.0 L-62.7 977.4 L-62.3 979.8 L-62.1 982.0 L-62.0 984.2" fill="none" stroke="#d2d2d3" stroke-width="1.8" opacity="0.28"/>
<ellipse cx="-104.9" cy="937.7" rx="8.0" ry="3.9" fill="#fff" opacity="0.97" transform="rotate(15.2 -104.9 937.7)" filter="url(#b1)"/>
<ellipse cx="-82.4" cy="953.3" rx="6.5" ry="3.2" fill="#fff" opacity="0.85" transform="rotate(49.1 -82.4 953.3)" filter="url(#b1)"/>
<path d="M-147.2 967.6 L-146.5 964.1 L-145.2 961.0 L-143.3 958.6 L-140.9 956.8 L-138.0 955.8 L-134.8 955.4 L-131.1 955.8 L-127.3 956.9 L-123.2 958.7 L-119.1 961.2 L-115.0 964.2 L-111.0 967.8 L-107.2 971.9 L-103.6 976.3 L-100.5 981.0 L-97.7 985.8 L-95.5 990.7 L-93.7 995.5 L-92.6 1000.2 L-92.1 1004.6 L-92.2 1008.6 L-92.8 1012.2 L-94.1 1015.2 L-96.0 1017.7 L-98.4 1019.4 L-101.3 1020.5 L-104.6 1020.8 L-108.2 1020.5" fill="none" stroke="url(#sBg)" stroke-width="24.2" stroke-linejoin="round" stroke-linecap="round"/>
<path d="M-141.7 962.8 L-139.5 963.3 L-137.2 964.0 L-134.8 965.0 L-132.4 966.2 L-130.0 967.6 L-127.5 969.3 L-125.1 971.1 L-122.7 973.2 L-120.4 975.4 L-118.1 977.8 L-115.9 980.3 L-113.8 982.9 L-111.9 985.6 L-110.0 988.4 L-108.4 991.3 L-106.9 994.1 L-105.5 997.0 L-104.4 999.9 L-103.5 1002.8 L-102.7 1005.6 L-102.2 1008.3 L-101.9 1010.9 L-101.8 1013.3 L-101.9 1015.7 L-102.2 1017.9 L-102.7 1019.9 L-103.5 1021.7 L-104.4 1023.3" fill="none" stroke="#3c3c3e" stroke-width="1.4" opacity="0.35"/>
<path d="M-111.5 986.2 L-110.4 987.8 L-109.4 989.4 L-108.5 991.0 L-107.6 992.7 L-106.8 994.3 L-106.0 996.0 L-105.3 997.6 L-104.6 999.3 L-104.1 1000.9 L-103.5 1002.5 L-103.1 1004.1 L-102.7 1005.7 L-102.4 1007.3 L-102.1 1008.8 L-101.9 1010.3 L-101.8 1011.7 L-101.8 1013.1 L-101.8 1014.5 L-101.9 1015.8 L-102.0 1017.1 L-102.3 1018.3 L-102.6 1019.4 L-103.0 1020.5 L-103.4 1021.5 L-103.9 1022.5 L-104.5 1023.4 L-105.1 1024.2 L-105.8 1024.9" fill="none" stroke="#2c2c2e" stroke-width="2.6" opacity="0.45" stroke-linecap="round"/>
<path d="M-130.3 951.7 L-128.5 951.7 L-126.6 952.0 L-124.6 952.4 L-122.5 953.1 L-120.5 953.9 L-118.3 954.9 L-116.2 956.1 L-114.0 957.5 L-111.9 959.0 L-109.8 960.7 L-107.7 962.5 L-105.6 964.4 L-103.6 966.5 L-101.7 968.7 L-99.8 971.0 L-98.0 973.3 L-96.4 975.8 L-94.8 978.3 L-93.4 980.8 L-92.0 983.3 L-90.9 985.9 L-89.8 988.4 L-89.0 990.9 L-88.2 993.4 L-87.7 995.8 L-87.3 998.2 L-87.0 1000.4 L-87.0 1002.6" fill="none" stroke="#d2d2d3" stroke-width="1.8" opacity="0.28"/>
<ellipse cx="-129.8" cy="956.1" rx="8.0" ry="3.9" fill="#fff" opacity="0.97" transform="rotate(15.2 -129.8 956.1)" filter="url(#b1)"/>
<ellipse cx="-107.4" cy="971.7" rx="6.5" ry="3.2" fill="#fff" opacity="0.85" transform="rotate(49.1 -107.4 971.7)" filter="url(#b1)"/>
</g>
<polygon points="212.8,489.4 203.9,496.7 251.6,532.2 258.9,525.7" fill="#494a4c" />
<polygon points="251.6,532.2 258.9,525.7 258.9,537.9 251.6,544.3" fill="#353638" />
<polygon points="301.0,558.6 294.5,563.4 385.0,630.5 393.1,624.0" fill="#494a4c" />
<polygon points="385.0,630.5 393.1,624.0 393.1,635.3 385.0,641.8" fill="#353638" />
<polygon points="435.3,657.5 427.2,663.9 475.7,697.9 484.6,692.2" fill="#4b4c4e" />
<polygon points="475.7,697.9 484.6,692.2 484.6,722.9 475.7,727.0" fill="#38393b" />
<g transform="rotate(-20 258 572)">
<ellipse cx="275.5" cy="567.7" rx="18" ry="24" fill="#48494b"/>
<polygon points="258.0,548.0 275.5,543.7 275.5,591.7 258.0,596.0" fill="#48494b"/>
<ellipse cx="258" cy="572" rx="18" ry="24" fill="#323335"/>
</g>
<g transform="rotate(-20 393 672)">
<ellipse cx="410.5" cy="667.7" rx="18" ry="24" fill="#48494b"/>
<polygon points="393.0,648.0 410.5,643.7 410.5,691.7 393.0,696.0" fill="#48494b"/>
<ellipse cx="393" cy="672" rx="18" ry="24" fill="#323335"/>
</g>
<g transform="rotate(-22 219.5 539.5)">
<ellipse cx="225.5" cy="543.5" rx="14.5" ry="17" fill="#b4b5b6"/>
<ellipse cx="219.5" cy="539.5" rx="14.5" ry="17" fill="#dfe0e1"/>
<ellipse cx="218.5" cy="540.5" rx="4.6" ry="5.6" fill="#aeb3b6"/>
<ellipse cx="219.0" cy="541.5" rx="2.6" ry="3.2" fill="#55636a"/>
</g>
<g transform="rotate(-22 450 707.5)">
<ellipse cx="456.0" cy="711.5" rx="14.5" ry="17" fill="#b4b5b6"/>
<ellipse cx="450" cy="707.5" rx="14.5" ry="17" fill="#dfe0e1"/>
<ellipse cx="449" cy="708.5" rx="4.6" ry="5.6" fill="#aeb3b6"/>
<ellipse cx="449.5" cy="709.5" rx="2.6" ry="3.2" fill="#55636a"/>
</g>
<g transform="rotate(-22 381.5 729)">
<ellipse cx="387.5" cy="733.0" rx="14.5" ry="17" fill="#9c9d9e"/>
<ellipse cx="381.5" cy="729" rx="14.5" ry="17" fill="#c9cacb"/>
<ellipse cx="380.5" cy="730" rx="4.6" ry="5.6" fill="#aeb3b6"/>
<ellipse cx="381.0" cy="731" rx="2.6" ry="3.2" fill="#55636a"/>
</g>
<polygon points="677.2,145.1 946.7,345.4 566.0,628.5 292.4,422.9" fill="#dbdcde" />
<defs><linearGradient id="gSS" gradientUnits="userSpaceOnUse" x1="760.0" y1="484.0" x2="779.0" y2="509.5"><stop offset="0" stop-color="#e4e5e6"/><stop offset="0.15" stop-color="#e6e7e8"/><stop offset="0.4" stop-color="#dcdddf"/><stop offset="0.8" stop-color="#d4d5d7"/><stop offset="1" stop-color="#c6c7c9"/></linearGradient></defs>
<path d="M946.7 379 L567.4 662.5" stroke="#4a4b4d" stroke-width="5" fill="none" filter="url(#b1)" opacity="0.9"/>
<path d="M1003 336.5 L946.7 379" stroke="#222" stroke-width="4" fill="none" filter="url(#b1)" opacity="0.9"/>
<path d="M567.4 662.5 L485 724" stroke="#222" stroke-width="4" fill="none" filter="url(#b1)" opacity="0.9"/>
<polygon points="946.7,345.4 946.7,377.5 567.4,660.6 566.0,628.5" fill="url(#gSS)" />
<polygon points="292.4,422.9 292.4,431.3 566.0,634.0 566.0,628.5" fill="#efeff0" />
<path d="M292.4 431.6 L566 634" stroke="#77787a" stroke-width="1.6" fill="none" opacity="0.8"/>
<polygon points="677.2,145.1 734.2,104.4 1003.0,304.5 946.7,345.4" fill="#4b4c4e" />
<polygon points="946.7,345.4 1003.0,304.5 1003.0,335.0 946.7,377.5" fill="#36373a" />
<polygon points="734.2,104.4 756.0,88.0 1026.0,287.5 1003.0,304.5" fill="#e8e868" />
<polygon points="1003.0,304.5 1026.0,287.5 1026.0,315.7 1004.5,334.6" fill="#dedd55" />
<polygon points="292.4,430.3 237.9,471.3 506.8,673.4 566.0,628.3" fill="#4b4c4e" />
<polygon points="566.0,628.3 567.4,660.6 507.5,703.6 506.8,673.4" fill="#343538" />
<polygon points="237.9,471.3 213.0,489.5 485.3,688.8 506.8,673.4" fill="#e8e868" />
<polygon points="506.8,673.4 507.5,703.6 485.3,719.4 485.3,688.8" fill="#dedd55" />
<ellipse cx="743.8" cy="159.3" rx="14.0" ry="10.5" fill="#3b3c3e" transform="rotate(-10.0 743.8 159.3)" />
<ellipse cx="745.3" cy="162.1" rx="6.2" ry="4.8" fill="#101011" transform="rotate(-10.0 745.3 162.1)" />
<ellipse cx="796.3" cy="197.7" rx="14.0" ry="10.5" fill="#3b3c3e" transform="rotate(-10.0 796.3 197.7)" />
<ellipse cx="797.8" cy="200.5" rx="6.2" ry="4.8" fill="#101011" transform="rotate(-10.0 797.8 200.5)" />
<ellipse cx="878.0" cy="258.2" rx="14.0" ry="10.5" fill="#3b3c3e" transform="rotate(-10.0 878.0 258.2)" />
<ellipse cx="879.5" cy="261.0" rx="6.2" ry="4.8" fill="#101011" transform="rotate(-10.0 879.5 261.0)" />
<ellipse cx="929.5" cy="295.6" rx="14.0" ry="10.5" fill="#3b3c3e" transform="rotate(-10.0 929.5 295.6)" />
<ellipse cx="931.0" cy="298.4" rx="6.2" ry="4.8" fill="#101011" transform="rotate(-10.0 931.0 298.4)" />
<ellipse cx="307.5" cy="482.5" rx="14.0" ry="10.5" fill="#3b3c3e" transform="rotate(-10.0 307.5 482.5)" />
<ellipse cx="309.0" cy="485.3" rx="6.2" ry="4.8" fill="#101011" transform="rotate(-10.0 309.0 485.3)" />
<ellipse cx="360.0" cy="521.0" rx="14.0" ry="10.5" fill="#3b3c3e" transform="rotate(-10.0 360.0 521.0)" />
<ellipse cx="361.5" cy="523.8" rx="6.2" ry="4.8" fill="#101011" transform="rotate(-10.0 361.5 523.8)" />
<ellipse cx="441.0" cy="579.0" rx="14.0" ry="10.5" fill="#3b3c3e" transform="rotate(-10.0 441.0 579.0)" />
<ellipse cx="442.5" cy="581.8" rx="6.2" ry="4.8" fill="#101011" transform="rotate(-10.0 442.5 581.8)" />
<ellipse cx="493.7" cy="620.2" rx="14.0" ry="10.5" fill="#3b3c3e" transform="rotate(-10.0 493.7 620.2)" />
<ellipse cx="495.2" cy="623.0" rx="6.2" ry="4.8" fill="#101011" transform="rotate(-10.0 495.2 623.0)" />
<ellipse cx="621.0" cy="218.0" rx="16.0" ry="11.5" fill="#85878a" transform="rotate(-8.0 621.0 218.0)" />
<ellipse cx="621.5" cy="216.5" rx="14.0" ry="8.5" fill="#5f6164" transform="rotate(-8.0 621.5 216.5)" />
<path d="M607.0 215.5 q14.0 6.0 28.0 -1.5" fill="none" stroke="#a9abae" stroke-width="1.5"/>
<path d="M608.2 218.8 q13.0 5.6 25.4 -1.5" fill="none" stroke="#a9abae" stroke-width="1.5"/>
<path d="M609.4 222.1 q12.0 5.2 22.8 -1.5" fill="none" stroke="#a9abae" stroke-width="1.5"/>
<path d="M610.6 225.4 q11.0 4.8 20.2 -1.5" fill="none" stroke="#a9abae" stroke-width="1.5"/>
<ellipse cx="404.0" cy="380.5" rx="16.0" ry="11.5" fill="#85878a" transform="rotate(-8.0 404.0 380.5)" />
<ellipse cx="404.5" cy="379.0" rx="14.0" ry="8.5" fill="#5f6164" transform="rotate(-8.0 404.5 379.0)" />
<path d="M390.0 378.0 q14.0 6.0 28.0 -1.5" fill="none" stroke="#a9abae" stroke-width="1.5"/>
<path d="M391.2 381.3 q13.0 5.6 25.4 -1.5" fill="none" stroke="#a9abae" stroke-width="1.5"/>
<path d="M392.4 384.6 q12.0 5.2 22.8 -1.5" fill="none" stroke="#a9abae" stroke-width="1.5"/>
<path d="M393.6 387.9 q11.0 4.8 20.2 -1.5" fill="none" stroke="#a9abae" stroke-width="1.5"/>
<ellipse cx="838.4" cy="381.8" rx="16.0" ry="11.5" fill="#85878a" transform="rotate(-8.0 838.4 381.8)" />
<ellipse cx="838.9" cy="380.3" rx="14.0" ry="8.5" fill="#5f6164" transform="rotate(-8.0 838.9 380.3)" />
<path d="M824.4 379.3 q14.0 6.0 28.0 -1.5" fill="none" stroke="#a9abae" stroke-width="1.5"/>
<path d="M825.6 382.6 q13.0 5.6 25.4 -1.5" fill="none" stroke="#a9abae" stroke-width="1.5"/>
<path d="M826.8 385.9 q12.0 5.2 22.8 -1.5" fill="none" stroke="#a9abae" stroke-width="1.5"/>
<path d="M828.0 389.2 q11.0 4.8 20.2 -1.5" fill="none" stroke="#a9abae" stroke-width="1.5"/>
<ellipse cx="620.3" cy="543.3" rx="16.0" ry="11.5" fill="#85878a" transform="rotate(-8.0 620.3 543.3)" />
<ellipse cx="620.8" cy="541.8" rx="14.0" ry="8.5" fill="#5f6164" transform="rotate(-8.0 620.8 541.8)" />
<path d="M606.3 540.8 q14.0 6.0 28.0 -1.5" fill="none" stroke="#a9abae" stroke-width="1.5"/>
<path d="M607.5 544.1 q13.0 5.6 25.4 -1.5" fill="none" stroke="#a9abae" stroke-width="1.5"/>
<path d="M608.7 547.4 q12.0 5.2 22.8 -1.5" fill="none" stroke="#a9abae" stroke-width="1.5"/>
<path d="M609.9 550.7 q11.0 4.8 20.2 -1.5" fill="none" stroke="#a9abae" stroke-width="1.5"/>
</g>
<rect x="285.0" y="96.1" width="430.0" height="5.0" fill="#231f20"/>
<polygon points="711.7,88.3 750.0,98.6 711.7,109.0" fill="#231f20" />
<rect x="412.5" y="184.0" width="155.7" height="5.2" fill="#231f20"/>
<rect x="564.0" y="184.0" width="4.2" height="176.0" fill="#231f20"/>
<polygon points="556.5,357.5 576.5,357.5 566.5,393.5" fill="#231f20" />
<rect x="227.7" y="361.0" width="4.8" height="94.0" fill="#231f20"/>
<polygon points="219.6,452.3 240.4,452.3 230.0,489.0" fill="#231f20" />
<rect x="1012.9" y="575.8" width="231.1" height="5.0" fill="#231f20"/>
<rect x="984.0" y="575.8" width="29.0" height="5.0" fill="#fff"/>
<polygon points="948.3,578.3 985.5,568.3 985.5,588.8" fill="#fff" />
<rect x="415.5" y="703.7" width="467.5" height="4.6" fill="#231f20"/>
<rect x="264.0" y="703.7" width="151.5" height="4.6" fill="#fff"/>
<polygon points="229.6,706.0 266.0,695.0 266.0,717.6" fill="#fff" />
<text x="62.7" y="71.0" font-size="39.5" textLength="269.3" lengthAdjust="spacingAndGlyphs">Lubrication unit</text>
<text x="62.8" y="118.8" font-size="39.5" textLength="173.7" lengthAdjust="spacingAndGlyphs">LUBSEAL</text>
<text x="235.9" y="118.8" font-size="39.5" textLength="41.2" lengthAdjust="spacingAndGlyphs">™</text>
<text x="130.4" y="197.6" font-size="39.5" textLength="267.1" lengthAdjust="spacingAndGlyphs">Slide block unit</text>
<text x="78.5" y="304.3" font-size="39.5" textLength="269.3" lengthAdjust="spacingAndGlyphs">Lubrication unit</text>
<text x="78.6" y="352.3" font-size="39.5" textLength="173.7" lengthAdjust="spacingAndGlyphs">LUBSEAL</text>
<text x="250.9" y="352.3" font-size="39.5" textLength="41.2" lengthAdjust="spacingAndGlyphs">™</text>
<text x="1254.6" y="594.6" font-size="39.5" textLength="165.8" lengthAdjust="spacingAndGlyphs">Guide rail</text>
<text x="888.2" y="717.3" font-size="39.5" textLength="206.0" lengthAdjust="spacingAndGlyphs">Screw shaft</text>
<text x="7.0" y="864.0" font-size="39.5" textLength="1011.9" lengthAdjust="spacingAndGlyphs">*The model image above is colored to show the LUBSEAL</text>
<text x="1018.9" y="864.0" font-size="39.5" textLength="41.2" lengthAdjust="spacingAndGlyphs">™</text>
<text x="1067.3" y="864.0" font-size="39.5" textLength="326.5" lengthAdjust="spacingAndGlyphs">mounting position.</text>
<rect x="6" y="6.9" width="2.1" height="798" fill="#1a1718"/>
<rect x="1478.1" y="6.9" width="2" height="798" fill="#1a1718"/>
<rect x="6" y="6.9" width="1474.1" height="1.4" fill="#1a1718"/>
<rect x="6" y="802.9" width="1474.1" height="2" fill="#1a1718"/>
</svg>
</body></html>
